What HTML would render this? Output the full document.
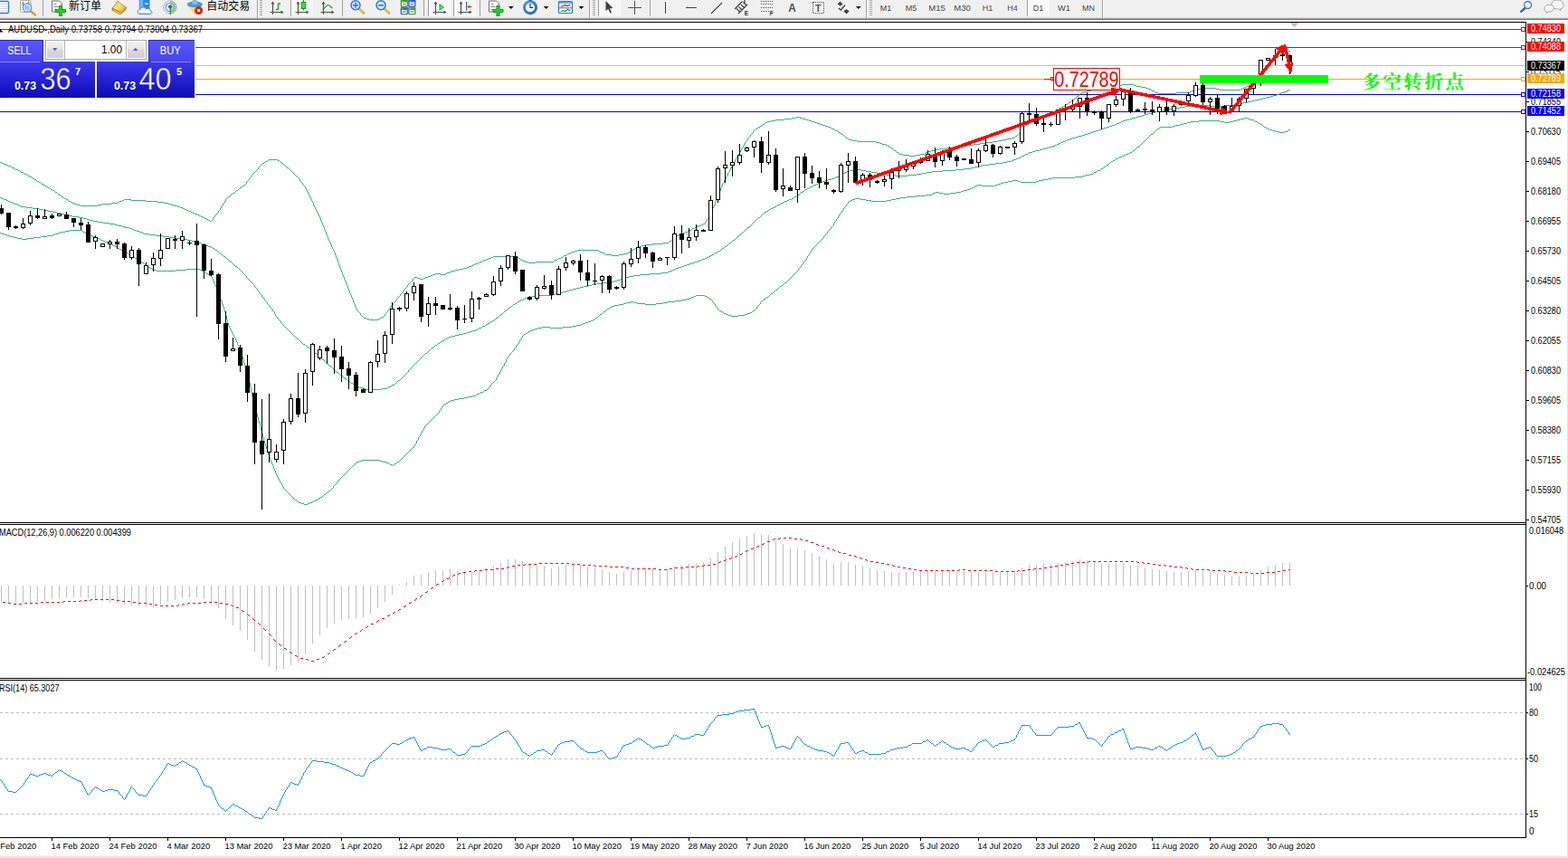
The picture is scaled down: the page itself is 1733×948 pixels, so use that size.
<!DOCTYPE html>
<html><head><meta charset="utf-8"><title>AUDUSD Daily</title>
<style>
html,body{margin:0;padding:0;background:#fff}
body{width:1733px;height:948px;overflow:hidden;position:relative;font-family:"Liberation Sans",sans-serif}
svg{position:absolute;left:0;top:0;display:block}
svg text{font-family:"Liberation Sans",sans-serif}
.c{shape-rendering:crispEdges}
</style></head><body>
<svg width="1733" height="948" viewBox="0 0 1733 948">
<rect x="0" y="0" width="1733" height="948" fill="#fff"/>
<g class="c">
<rect x="0" y="32" width="1686" height="1" fill="#ff0000" />
<rect x="0" y="52" width="1686" height="1" fill="#ff0000" />
<rect x="0" y="72" width="1686" height="1" fill="#c0c0c0" />
<rect x="0" y="87" width="1686" height="1" fill="#ffa500" />
<rect x="0" y="104" width="1686" height="1" fill="#0000ff" />
<rect x="0" y="123" width="1686" height="1" fill="#0000ff" />
</g>
<path class="c" d="M0 179.5h2M2 180.5h2M4 181.5h3M7 182.5h2M9 183.5h3M12 184.5h1M13 185.5h3M16 186.5h1M17 187.5h3M20 188.5h2M22 189.5h1M23 190.5h3M26 191.5h1M27 192.5h3M30 193.5h1M31 194.5h2M33 195.5h2M35 196.5h1M36 197.5h2M38 198.5h2M40 199.5h1M41 200.5h2M43 201.5h2M45 202.5h1M46 203.5h2M48 204.5h2M50 205.5h1M51 206.5h2M53 207.5h2M55 208.5h1M56 209.5h2M58 210.5h2M60 211.5h1M61 212.5h2M63 213.5h1M64 214.5h1M65 215.5h2M67 216.5h1M68 217.5h2M70 218.5h1M71 219.5h2M73 220.5h2M75 221.5h1M76 222.5h2M78 223.5h2M80 224.5h2M82 225.5h3M85 226.5h4M89 227.5h19M108 226.5h5M113 225.5h10M123 224.5h7M130 223.5h2M132 222.5h3M135 221.5h2M137 220.5h8M145 221.5h16M161 222.5h13M174 223.5h7M181 224.5h5M186 225.5h3M189 226.5h4M193 227.5h3M196 228.5h3M199 229.5h3M202 230.5h2M204 231.5h2M206 232.5h2M208 233.5h3M211 234.5h2M213 235.5h2M215 236.5h3M218 237.5h2M220 238.5h2M222 239.5h2M224 240.5h2M226 241.5h2M228 242.5h2M230 243.5h2M232 244.5h2M234 243.5h1M235.5 241v2M236 240.5h1M237.5 238v2M238 237.5h1M239 236.5h1M240 235.5h1M241.5 233v2M242 232.5h1M243.5 230v2M244.5 228v2M245 227.5h1M246.5 225v2M247 224.5h1M248.5 222v2M249.5 220v2M250 219.5h1M251 218.5h1M252 217.5h2M254 216.5h1M255 215.5h1M256 214.5h1M257 213.5h2M259 212.5h1M260 211.5h1M261 210.5h2M263 209.5h1M264 208.5h1M265 207.5h2M267 206.5h1M268 205.5h2M270 204.5h1M271 203.5h1M272.5 201v2M273 200.5h1M274 199.5h1M275.5 197v2M276 196.5h1M277 195.5h1M278.5 193v2M279 192.5h1M280 191.5h1M281 190.5h1M282 189.5h1M283 188.5h1M284 187.5h1M285.5 185v2M286 184.5h1M287 183.5h1M288 182.5h1M289 181.5h1M290 180.5h2M292 179.5h1M293 178.5h3M296 177.5h1M297 176.5h10M307 177.5h2M309 178.5h1M310 179.5h1M311 180.5h2M313 181.5h1M314 182.5h1M315 183.5h1M316 184.5h1M317 185.5h2M319 186.5h1M320 187.5h1M321 188.5h1M322 189.5h1M323 190.5h1M324 191.5h1M325 192.5h1M326 193.5h1M327 194.5h1M328 195.5h1M329 196.5h1M330 197.5h1M331.5 198v2M332 200.5h1M333 201.5h1M334.5 202v2M335 204.5h1M336 205.5h1M337.5 206v2M338.5 208v2M339.5 210v2M340.5 212v2M341.5 214v2M342.5 216v2M343.5 218v2M344.5 220v2M345.5 222v2M346.5 224v3M347.5 227v2M348.5 229v2M349.5 231v2M350.5 233v2M351.5 235v2M352.5 237v2M353.5 239v2M354.5 241v3M355.5 244v2M356.5 246v3M357.5 249v2M358.5 251v3M359.5 254v2M360.5 256v3M361.5 259v2M362.5 261v3M363.5 264v2M364.5 266v2M365.5 268v2M366.5 270v3M367.5 273v2M368.5 275v2M369.5 277v2M370.5 279v3M371.5 282v3M372.5 285v2M373.5 287v3M374.5 290v3M375.5 293v3M376.5 296v2M377.5 298v3M378.5 301v3M379.5 304v2M380.5 306v3M381.5 309v2M382.5 311v3M383.5 314v2M384.5 316v3M385.5 319v2M386.5 321v3M387.5 324v2M388.5 326v3M389.5 329v2M390.5 331v3M391.5 334v2M392.5 336v3M393.5 339v2M394.5 341v2M395 343.5h1M396 344.5h1M397 345.5h1M398.5 346v2M399 348.5h1M400 349.5h1M401 350.5h1M402 351.5h3M405 352.5h3M408 353.5h10M418 352.5h2M420 351.5h2M422 350.5h2M424 349.5h1M425.5 347v2M426 346.5h1M427 345.5h1M428.5 343v2M429 342.5h1M430 341.5h1M431.5 339v2M432 338.5h1M433 337.5h1M434.5 335v2M435 334.5h1M436 333.5h1M437 332.5h1M438.5 330v2M439 329.5h1M440 328.5h1M441 327.5h1M442.5 325v2M443 324.5h1M444 323.5h1M445 322.5h1M446.5 320v2M447 319.5h1M448 318.5h1M449 317.5h1M450.5 315v2M451 314.5h1M452 313.5h1M453 312.5h1M454 311.5h1M455 310.5h1M456.5 308v2M457 307.5h1M458 306.5h3M461 307.5h3M464 308.5h4M468 307.5h2M470 306.5h3M473 305.5h3M476 304.5h2M478 303.5h3M481 302.5h6M487 303.5h5M492 302.5h2M494 301.5h3M497 300.5h2M499 299.5h4M503 298.5h4M507 297.5h5M512 296.5h4M516 295.5h2M518 294.5h3M521 293.5h2M523 292.5h2M525 291.5h3M528 290.5h2M530 289.5h3M533 288.5h2M535 287.5h3M538 286.5h2M540 285.5h3M543 284.5h2M545 283.5h22M567 284.5h6M573 285.5h2M575 286.5h1M576 287.5h2M578 288.5h3M581 289.5h3M584 290.5h8M592 289.5h20M612 288.5h1M613 287.5h3M616 286.5h1M617 285.5h3M620 284.5h2M622 283.5h1M623 282.5h3M626 281.5h1M627 280.5h3M630 279.5h2M632 278.5h3M635 277.5h3M638 276.5h23M661 277.5h2M663 278.5h2M665 279.5h3M668 280.5h1M669 281.5h7M676 282.5h8M684 281.5h5M689 280.5h4M693 279.5h2M695 278.5h2M697 277.5h1M698 276.5h2M700 275.5h2M702 274.5h2M704 273.5h2M706 272.5h3M709 271.5h4M713 270.5h8M721 269.5h12M733 268.5h6M739 267.5h1M740 266.5h2M742 265.5h1M743 264.5h1M744 263.5h1M745 262.5h2M747 261.5h1M748 260.5h2M750 259.5h2M752 258.5h3M755 257.5h2M757 256.5h3M760 255.5h1M761 254.5h3M764 253.5h1M765 252.5h3M768 251.5h2M770 250.5h2M772 249.5h3M775 248.5h2M777 247.5h2M779.5 245v2M780 244.5h1M781.5 242v2M782 241.5h1M783.5 239v2M784.5 237v2M785.5 235v2M786.5 233v2M787.5 230v3M788.5 228v2M789.5 226v2M790.5 223v3M791.5 221v2M792.5 218v3M793.5 216v2M794.5 213v3M795.5 211v2M796.5 208v3M797.5 206v2M798.5 203v3M799 202.5h1M800.5 199v3M801 198.5h1M802.5 195v3M803 194.5h1M804.5 191v3M805 190.5h1M806.5 188v2M807.5 186v2M808.5 184v2M809.5 182v2M810.5 180v2M811 179.5h1M812.5 177v2M813.5 175v2M814.5 173v2M815.5 171v2M816 170.5h1M817.5 168v2M818.5 166v2M819.5 164v2M820 163.5h1M821.5 161v2M822.5 159v2M823.5 157v2M824 156.5h1M825 155.5h1M826.5 153v2M827 152.5h1M828 151.5h1M829.5 149v2M830 148.5h1M831 147.5h1M832.5 145v2M833 144.5h1M834 143.5h1M835 142.5h2M837 141.5h1M838 140.5h2M840 139.5h2M842 138.5h1M843 137.5h2M845 136.5h1M846 135.5h2M848 134.5h4M852 133.5h5M857 132.5h10M867 131.5h8M875 130.5h5M880 129.5h4M884 130.5h3M887 131.5h4M891 132.5h3M894 133.5h3M897 134.5h3M900 135.5h3M903 136.5h3M906 137.5h3M909 138.5h3M912 139.5h3M915 140.5h3M918 141.5h1M919 142.5h3M922 143.5h1M923 144.5h3M926 145.5h1M927 146.5h2M929 147.5h1M930 148.5h2M932 149.5h1M933 150.5h1M934 151.5h1M935 152.5h2M937 153.5h1M938 154.5h4M942 155.5h5M947 156.5h21M968 157.5h4M972 158.5h3M975 159.5h4M979 160.5h2M981 161.5h2M983 162.5h1M984 163.5h2M986 164.5h1M987 165.5h1M988 166.5h2M990 167.5h1M991 168.5h2M993 169.5h1M994 170.5h4M998 171.5h7M1005 172.5h7M1012 171.5h5M1017 170.5h5M1022 169.5h1M1023 168.5h3M1026 167.5h3M1029 166.5h4M1033 165.5h5M1038 164.5h8M1046 163.5h9M1055 162.5h9M1064 161.5h5M1069 160.5h7M1076 159.5h7M1083 158.5h7M1090 157.5h7M1097 156.5h6M1103 155.5h5M1108 154.5h5M1113 153.5h5M1118 152.5h3M1121 151.5h1M1122 150.5h2M1124 149.5h1M1125 148.5h1M1126 147.5h1M1127 146.5h1M1128.5 144v2M1129 143.5h1M1130.5 141v2M1131 140.5h1M1132 139.5h1M1133 138.5h2M1135 137.5h2M1137 136.5h1M1138 135.5h2M1140 134.5h2M1142 133.5h2M1144 132.5h3M1147 131.5h2M1149 130.5h3M1152 129.5h2M1154 128.5h3M1157 127.5h2M1159 126.5h3M1162 125.5h2M1164 124.5h2M1166 123.5h1M1167 122.5h2M1169 121.5h1M1170 120.5h1M1171 119.5h2M1173 118.5h2M1175 117.5h2M1177 116.5h1M1178 115.5h2M1180 114.5h1M1181 113.5h2M1183 112.5h1M1184 111.5h2M1186 110.5h1M1187 109.5h1M1188 108.5h1M1189 107.5h1M1190 106.5h2M1192 105.5h1M1193 104.5h1M1194 103.5h2M1196 102.5h2M1198 101.5h3M1201 100.5h5M1206 99.5h6M1212 98.5h6M1218 97.5h6M1224 96.5h6M1230 95.5h6M1236 94.5h4M1240 93.5h13M1253 94.5h3M1256 95.5h5M1261 96.5h5M1266 97.5h3M1269 98.5h3M1272 99.5h1M1273 100.5h3M1276 101.5h1M1277 102.5h3M1280 103.5h20M1300 102.5h15M1315 101.5h2M1317 100.5h3M1320 99.5h1M1321 98.5h7M1328 97.5h16M1344 98.5h4M1348 99.5h23M1371 98.5h2M1373 97.5h2M1375 96.5h3M1378 95.5h2M1380 94.5h3M1383 93.5h3M1386 92.5h2M1388 91.5h1M1389.5 89v2M1390 88.5h1M1391 87.5h1M1392 86.5h1M1393.5 84v2M1394 83.5h1M1395 82.5h1M1396 81.5h1M1397.5 79v2M1398 78.5h1M1399 77.5h1M1400.5 75v2M1401 74.5h1M1402 73.5h1M1403.5 71v2M1404 70.5h1M1405 69.5h1M1406 68.5h1M1407 67.5h1M1408 66.5h1M1409 65.5h1M1410 64.5h1M1411 63.5h1M1412 62.5h2M1414 61.5h1M1415 60.5h3M1418 59.5h2M1420 58.5h2M1422 57.5h2M1424 56.5h2" stroke="#3cb371" stroke-width="1" fill="none"/>
<path class="c" d="M0 218.5h2M2 219.5h2M4 220.5h3M7 221.5h2M9 222.5h2M11 223.5h3M14 224.5h2M16 225.5h3M19 226.5h2M21 227.5h2M23 228.5h6M29 229.5h7M36 230.5h7M43 231.5h5M48 232.5h5M53 233.5h5M58 234.5h5M63 235.5h3M66 236.5h5M71 237.5h3M74 238.5h6M80 239.5h7M87 240.5h5M92 241.5h4M96 242.5h3M99 243.5h4M103 244.5h5M108 245.5h6M114 246.5h7M121 247.5h6M127 248.5h3M130 249.5h5M135 250.5h3M138 251.5h5M143 252.5h3M146 253.5h2M148 254.5h3M151 255.5h3M154 256.5h3M157 257.5h2M159 258.5h6M165 259.5h7M172 260.5h8M180 261.5h7M187 262.5h7M194 263.5h6M200 264.5h7M207 265.5h5M212 266.5h3M215 267.5h4M219 268.5h3M222 269.5h2M224 270.5h3M227 271.5h3M230 272.5h3M233 273.5h2M235 274.5h2M237 275.5h1M238 276.5h2M240 277.5h1M241 278.5h1M242 279.5h1M243 280.5h2M245 281.5h1M246 282.5h1M247 283.5h2M249 284.5h1M250 285.5h1M251 286.5h1M252 287.5h1M253 288.5h2M255 289.5h1M256 290.5h1M257 291.5h1M258 292.5h1M259 293.5h1M260 294.5h2M262 295.5h1M263 296.5h1M264 297.5h1M265 298.5h1M266 299.5h1M267 300.5h1M268 301.5h1M269 302.5h1M270 303.5h1M271 304.5h1M272.5 305v2M273 307.5h1M274 308.5h1M275 309.5h1M276 310.5h1M277 311.5h1M278 312.5h1M279 313.5h1M280 314.5h1M281.5 315v2M282 317.5h1M283 318.5h1M284.5 319v2M285 321.5h1M286.5 322v2M287 324.5h1M288 325.5h1M289.5 326v2M290 328.5h1M291 329.5h1M292.5 330v2M293 332.5h1M294 333.5h1M295.5 334v2M296 336.5h1M297 337.5h1M298.5 338v2M299 340.5h1M300 341.5h1M301.5 342v2M302 344.5h1M303.5 345v2M304.5 347v2M305 349.5h1M306.5 350v2M307 352.5h1M308 353.5h1M309 354.5h1M310.5 355v2M311 357.5h1M312 358.5h1M313 359.5h1M314 360.5h1M315 361.5h1M316 362.5h1M317 363.5h1M318 364.5h1M319 365.5h1M320 366.5h1M321 367.5h1M322 368.5h1M323 369.5h1M324 370.5h1M325 371.5h1M326 372.5h1M327 373.5h1M328 374.5h2M330 375.5h1M331 376.5h1M332 377.5h1M333 378.5h1M334 379.5h1M335 380.5h2M337 381.5h1M338 382.5h1M339 383.5h2M341 384.5h1M342 385.5h2M344 386.5h1M345 387.5h1M346 388.5h1M347 389.5h1M348 390.5h2M350 391.5h1M351 392.5h1M352 393.5h1M353 394.5h1M354 395.5h1M355 396.5h1M356 397.5h2M358 398.5h1M359 399.5h1M360 400.5h1M361 401.5h1M362 402.5h1M363 403.5h1M364 404.5h2M366 405.5h1M367 406.5h1M368 407.5h1M369 408.5h1M370 409.5h1M371 410.5h1M372 411.5h2M374 412.5h1M375 413.5h1M376 414.5h1M377 415.5h2M379 416.5h1M380 417.5h1M381 418.5h2M383 419.5h1M384 420.5h1M385 421.5h2M387 422.5h1M388 423.5h2M390 424.5h2M392 425.5h1M393 426.5h3M396 427.5h1M397 428.5h4M401 429.5h3M404 430.5h18M422 429.5h6M428 428.5h1M429 427.5h3M432 426.5h1M433 425.5h3M436 424.5h1M437 423.5h1M438 422.5h1M439 421.5h1M440 420.5h2M442 419.5h1M443 418.5h1M444 417.5h1M445 416.5h1M446 415.5h1M447 414.5h1M448 413.5h1M449 412.5h1M450 411.5h1M451.5 409v2M452 408.5h1M453 407.5h1M454 406.5h1M455 405.5h1M456 404.5h1M457 403.5h1M458 402.5h1M459 401.5h1M460 400.5h1M461 399.5h1M462 398.5h1M463 397.5h1M464 396.5h1M465 395.5h1M466 394.5h1M467 393.5h1M468 392.5h1M469 391.5h1M470 390.5h2M472 389.5h1M473 388.5h1M474 387.5h1M475 386.5h1M476 385.5h1M477 384.5h2M479 383.5h1M480 382.5h1M481 381.5h2M483 380.5h1M484 379.5h2M486 378.5h1M487 377.5h2M489 376.5h2M491 375.5h1M492 374.5h2M494 373.5h2M496 372.5h3M499 371.5h4M503 370.5h4M507 369.5h5M512 368.5h4M516 367.5h3M519 366.5h3M522 365.5h3M525 364.5h3M528 363.5h1M529 362.5h3M532 361.5h1M533 360.5h3M536 359.5h1M537 358.5h2M539 357.5h2M541 356.5h1M542 355.5h2M544 354.5h2M546 353.5h1M547 352.5h1M548 351.5h2M550 350.5h1M551 349.5h1M552 348.5h1M553 347.5h2M555 346.5h1M556 345.5h1M557 344.5h1M558 343.5h2M560 342.5h1M561 341.5h1M562 340.5h1M563 339.5h2M565 338.5h1M566 337.5h1M567 336.5h2M569 335.5h2M571 334.5h1M572 333.5h2M574 332.5h2M576 331.5h2M578 330.5h2M580 329.5h3M583 328.5h5M588 327.5h5M593 326.5h18M611 325.5h3M614 324.5h5M619 323.5h3M622 322.5h4M626 321.5h3M629 320.5h4M633 319.5h4M637 318.5h4M641 317.5h4M645 316.5h5M650 315.5h4M654 314.5h5M659 313.5h6M665 312.5h8M673 311.5h6M679 310.5h3M682 309.5h4M686 308.5h3M689 307.5h3M692 306.5h3M695 305.5h5M700 304.5h7M707 303.5h11M718 302.5h13M731 301.5h7M738 300.5h2M740 299.5h3M743 298.5h2M745 297.5h2M747 296.5h3M750 295.5h3M753 294.5h3M756 293.5h3M759 292.5h3M762 291.5h3M765 290.5h3M768 289.5h3M771 288.5h3M774 287.5h2M776 286.5h3M779 285.5h2M781 284.5h2M783 283.5h2M785 282.5h2M787 281.5h2M789 280.5h1M790 279.5h2M792 278.5h2M794 277.5h2M796 276.5h1M797 275.5h1M798 274.5h2M800 273.5h1M801 272.5h2M803 271.5h1M804 270.5h1M805 269.5h1M806 268.5h2M808 267.5h1M809 266.5h1M810 265.5h2M812 264.5h1M813 263.5h1M814 262.5h1M815 261.5h1M816 260.5h1M817 259.5h2M819 258.5h1M820 257.5h1M821 256.5h1M822 255.5h1M823 254.5h1M824 253.5h1M825 252.5h1M826 251.5h2M828 250.5h1M829 249.5h1M830 248.5h1M831 247.5h1M832 246.5h1M833 245.5h1M834 244.5h1M835 243.5h1M836 242.5h1M837 241.5h1M838 240.5h2M840 239.5h1M841 238.5h1M842 237.5h1M843 236.5h1M844 235.5h1M845 234.5h2M847 233.5h2M849 232.5h1M850 231.5h2M852 230.5h2M854 229.5h2M856 228.5h2M858 227.5h1M859 226.5h3M862 225.5h1M863 224.5h3M866 223.5h1M867 222.5h3M870 221.5h2M872 220.5h3M875 219.5h2M877 218.5h1M878 217.5h2M880 216.5h1M881 215.5h2M883 214.5h1M884 213.5h1M885 212.5h2M887 211.5h2M889 210.5h1M890 209.5h2M892 208.5h2M894 207.5h1M895 206.5h3M898 205.5h1M899 204.5h3M902 203.5h2M904 202.5h3M907 201.5h2M909 200.5h3M912 199.5h3M915 198.5h4M919 197.5h3M922 196.5h2M924 195.5h3M927 194.5h2M929 193.5h2M931 192.5h1M932 191.5h2M934 190.5h2M936 189.5h3M939 188.5h6M945 187.5h7M952 188.5h5M957 189.5h6M963 190.5h6M969 191.5h6M975 192.5h5M980 193.5h10M990 194.5h13M1003 193.5h10M1013 192.5h6M1019 191.5h5M1024 190.5h6M1030 189.5h12M1042 188.5h14M1056 187.5h9M1065 186.5h8M1073 185.5h4M1077 184.5h5M1082 183.5h4M1086 182.5h7M1093 181.5h7M1100 180.5h8M1108 179.5h5M1113 178.5h5M1118 177.5h2M1120 176.5h3M1123 175.5h2M1125 174.5h3M1128 173.5h1M1129 172.5h3M1132 171.5h1M1133 170.5h3M1136 169.5h1M1137 168.5h4M1141 167.5h3M1144 166.5h5M1149 165.5h3M1152 164.5h4M1156 163.5h3M1159 162.5h4M1163 161.5h3M1166 160.5h2M1168 159.5h2M1170 158.5h2M1172 157.5h3M1175 156.5h2M1177 155.5h2M1179 154.5h3M1182 153.5h3M1185 152.5h4M1189 151.5h3M1192 150.5h4M1196 149.5h3M1199 148.5h3M1202 147.5h3M1205 146.5h3M1208 145.5h3M1211 144.5h3M1214 143.5h3M1217 142.5h3M1220 141.5h3M1223 140.5h3M1226 139.5h3M1229 138.5h3M1232 137.5h2M1234 136.5h3M1237 135.5h2M1239 134.5h2M1241 133.5h3M1244 132.5h4M1248 131.5h3M1251 130.5h4M1255 129.5h3M1258 128.5h4M1262 127.5h3M1265 126.5h4M1269 125.5h4M1273 124.5h4M1277 123.5h5M1282 122.5h5M1287 121.5h5M1292 120.5h6M1298 119.5h6M1304 118.5h6M1310 117.5h12M1322 116.5h16M1338 117.5h16M1354 116.5h10M1364 115.5h5M1369 114.5h5M1374 113.5h5M1379 112.5h4M1383 111.5h4M1387 110.5h5M1392 109.5h4M1396 108.5h4M1400 107.5h4M1404 106.5h3M1407 105.5h4M1411 104.5h3M1414 103.5h2M1416 102.5h3M1419 101.5h3M1422 100.5h2M1424 99.5h2" stroke="#3cb371" stroke-width="1" fill="none"/>
<path class="c" d="M0 257.5h2M2 258.5h3M5 259.5h3M8 260.5h3M11 261.5h4M15 262.5h4M19 263.5h5M24 264.5h6M30 263.5h7M37 262.5h8M45 261.5h7M52 260.5h6M58 259.5h3M61 258.5h3M64 257.5h3M67 256.5h5M72 255.5h5M77 254.5h14M91 255.5h1M92 256.5h2M94 257.5h1M95 258.5h1M96 259.5h3M99 260.5h3M102 261.5h4M106 262.5h1M107 263.5h3M110 264.5h1M111 265.5h3M114 266.5h2M116 267.5h3M119 268.5h2M121 269.5h2M123 270.5h2M125 271.5h2M127 272.5h2M129 273.5h1M130 274.5h2M132 275.5h2M134 276.5h2M136 277.5h1M137 278.5h2M139 279.5h2M141 280.5h1M142 281.5h2M144 282.5h2M146 283.5h1M147 284.5h2M149 285.5h2M151 286.5h1M152 287.5h2M154 288.5h2M156 289.5h1M157 290.5h2M159 291.5h1M160 292.5h1M161 293.5h2M163 294.5h1M164 295.5h2M166 296.5h2M168 297.5h2M170 298.5h3M173 299.5h21M194 298.5h12M206 297.5h15M221 298.5h2M223 299.5h2M225 300.5h2M227 301.5h1M228 302.5h2M230 303.5h1M231 304.5h2M233 305.5h1M234.5 306v2M235.5 308v2M236.5 310v3M237.5 313v2M238.5 315v2M239.5 317v3M240.5 320v2M241.5 322v3M242.5 325v3M243.5 328v3M244.5 331v2M245.5 333v3M246.5 336v3M247.5 339v3M248.5 342v3M249.5 345v4M250.5 349v4M251.5 353v4M252.5 357v3M253.5 360v2M254.5 362v2M255.5 364v2M256.5 366v2M257.5 368v2M258.5 370v2M259.5 372v2M260.5 374v2M261.5 376v2M262.5 378v3M263.5 381v2M264.5 383v2M265.5 385v2M266.5 387v3M267.5 390v4M268.5 394v3M269.5 397v4M270.5 401v3M271.5 404v4M272.5 408v3M273.5 411v4M274.5 415v4M275.5 419v4M276.5 423v5M277.5 428v5M278.5 433v5M279.5 438v4M280.5 442v4M281.5 446v4M282.5 450v4M283.5 454v3M284.5 457v4M285.5 461v4M286.5 465v3M287.5 468v4M288.5 472v4M289.5 476v3M290.5 479v4M291.5 483v4M292.5 487v3M293.5 490v3M294.5 493v3M295.5 496v3M296.5 499v3M297.5 502v3M298.5 505v3M299.5 508v2M300.5 510v3M301.5 513v2M302.5 515v3M303.5 518v2M304.5 520v3M305.5 523v2M306.5 525v2M307.5 527v2M308.5 529v2M309.5 531v2M310 533.5h1M311.5 534v2M312.5 536v2M313.5 538v2M314 540.5h1M315 541.5h1M316 542.5h1M317 543.5h1M318 544.5h1M319 545.5h1M320 546.5h1M321 547.5h1M322 548.5h1M323 549.5h1M324 550.5h1M325 551.5h1M326 552.5h2M328 553.5h1M329 554.5h1M330 555.5h3M333 556.5h3M336 557.5h4M340 556.5h2M342 555.5h3M345 554.5h2M347 553.5h2M349 552.5h2M351 551.5h1M352 550.5h2M354 549.5h2M356 548.5h1M357 547.5h1M358 546.5h2M360 545.5h1M361 544.5h1M362 543.5h1M363 542.5h2M365 541.5h1M366 540.5h1M367 539.5h1M368.5 537v2M369 536.5h1M370 535.5h1M371 534.5h1M372 533.5h1M373 532.5h1M374.5 530v2M375 529.5h1M376 528.5h1M377 527.5h1M378 526.5h1M379 525.5h1M380 524.5h1M381 523.5h1M382 522.5h1M383 521.5h1M384 520.5h1M385 519.5h1M386 518.5h1M387 517.5h1M388 516.5h1M389 515.5h1M390 514.5h1M391 513.5h1M392 512.5h1M393 511.5h1M394 510.5h3M397 509.5h3M400 508.5h20M420 509.5h3M423 510.5h4M427 511.5h3M430 512.5h1M431 513.5h3M434 514.5h1M435 513.5h1M436 512.5h2M438 511.5h1M439 510.5h2M441 509.5h1M442 508.5h1M443 507.5h1M444 506.5h1M445 505.5h1M446 504.5h1M447 503.5h1M448 502.5h1M449 501.5h1M450 500.5h1M451 499.5h1M452 498.5h1M453 497.5h1M454 496.5h1M455 495.5h1M456 494.5h1M457 493.5h1M458.5 491v2M459 490.5h1M460.5 487v3M461 486.5h1M462.5 483v3M463 482.5h1M464.5 480v2M465.5 478v2M466.5 476v2M467 475.5h1M468.5 473v2M469.5 471v2M470 470.5h1M471 469.5h1M472 468.5h1M473 467.5h1M474 466.5h1M475 465.5h1M476 464.5h1M477 463.5h1M478 462.5h1M479 461.5h1M480 460.5h1M481 459.5h1M482 458.5h1M483 457.5h1M484 456.5h1M485.5 454v2M486 453.5h1M487.5 451v2M488 450.5h1M489.5 448v2M490 447.5h1M491 446.5h2M493 445.5h2M495 444.5h1M496 443.5h2M498 442.5h4M502 441.5h5M507 440.5h6M513 439.5h4M517 438.5h5M522 437.5h4M526 436.5h1M527 435.5h3M530 434.5h1M531 433.5h3M534 432.5h1M535 431.5h3M538 430.5h1M539 429.5h1M540 428.5h1M541 427.5h1M542.5 425v2M543 424.5h1M544 423.5h1M545 422.5h1M546 421.5h1M547 420.5h1M548.5 418v2M549.5 416v2M550.5 414v2M551 413.5h1M552.5 411v2M553.5 409v2M554.5 407v2M555.5 405v2M556 404.5h1M557.5 401v3M558 400.5h1M559.5 397v3M560 396.5h1M561.5 394v2M562 393.5h1M563.5 391v2M564 390.5h1M565 389.5h1M566 388.5h1M567 387.5h1M568.5 385v2M569 384.5h1M570.5 382v2M571 381.5h1M572 380.5h1M573.5 378v2M574.5 376v2M575 375.5h1M576.5 373v2M577.5 371v2M578 370.5h1M579 369.5h2M581 368.5h2M583 367.5h1M584 366.5h2M586 365.5h2M588 364.5h3M591 363.5h3M594 362.5h5M599 361.5h9M608 362.5h14M622 361.5h10M632 360.5h5M637 359.5h5M642 358.5h2M644 357.5h3M647 356.5h3M650 355.5h3M653 354.5h2M655 353.5h2M657 352.5h1M658 351.5h2M660 350.5h1M661 349.5h1M662 348.5h1M663 347.5h2M665 346.5h1M666 345.5h1M667 344.5h2M669 343.5h1M670 342.5h1M671 341.5h2M673 340.5h1M674 339.5h2M676 338.5h3M679 337.5h5M684 336.5h5M689 335.5h3M692 334.5h5M697 333.5h4M701 334.5h3M704 335.5h9M713 336.5h12M725 335.5h8M733 334.5h5M738 333.5h8M746 332.5h7M753 331.5h5M758 330.5h4M762 329.5h2M764 328.5h3M767 327.5h2M769 326.5h10M779 327.5h2M781 328.5h2M783 329.5h1M784 330.5h2M786 331.5h1M787.5 332v2M788 334.5h1M789 335.5h1M790.5 336v2M791 338.5h1M792 339.5h1M793.5 340v2M794 342.5h1M795 343.5h2M797 344.5h2M799 345.5h1M800 346.5h2M802 347.5h3M805 348.5h3M808 349.5h8M816 348.5h7M823 347.5h3M826 346.5h3M829 345.5h2M831 344.5h1M832 343.5h2M834 342.5h1M835 341.5h1M836.5 339v2M837 338.5h1M838 337.5h1M839 336.5h1M840.5 334v2M841 333.5h1M842 332.5h1M843 331.5h1M844 330.5h2M846 329.5h1M847 328.5h2M849 327.5h1M850 326.5h1M851 325.5h1M852 324.5h2M854 323.5h1M855 322.5h1M856 321.5h1M857 320.5h2M859 319.5h1M860 318.5h1M861 317.5h1M862 316.5h2M864 315.5h1M865 314.5h1M866 313.5h1M867 312.5h2M869 311.5h1M870 310.5h1M871 309.5h1M872 308.5h1M873 307.5h1M874 306.5h1M875 305.5h1M876 304.5h1M877 303.5h1M878 302.5h1M879 301.5h1M880 300.5h1M881 299.5h1M882.5 297v2M883 296.5h1M884 295.5h1M885.5 293v2M886 292.5h1M887 291.5h1M888.5 289v2M889 288.5h1M890 287.5h1M891.5 285v2M892.5 283v2M893 282.5h1M894.5 280v2M895 279.5h1M896.5 277v2M897.5 275v2M898 274.5h1M899 273.5h1M900 272.5h1M901 271.5h1M902 270.5h1M903 269.5h1M904 268.5h1M905 267.5h1M906 266.5h1M907 265.5h1M908 264.5h1M909 263.5h1M910.5 261v2M911 260.5h1M912 259.5h1M913 258.5h1M914.5 256v2M915 255.5h1M916 254.5h1M917 253.5h1M918.5 251v2M919 250.5h1M920 249.5h1M921.5 247v2M922.5 245v2M923 244.5h1M924.5 242v2M925 241.5h1M926.5 239v2M927.5 237v2M928 236.5h1M929 235.5h1M930.5 233v2M931 232.5h1M932.5 230v2M933 229.5h1M934 228.5h1M935.5 226v2M936 225.5h1M937.5 223v2M938 222.5h2M940 221.5h2M942 220.5h3M945 219.5h6M951 220.5h6M957 221.5h6M963 222.5h17M980 221.5h5M985 220.5h5M990 219.5h5M995 218.5h7M1002 217.5h10M1012 216.5h11M1023 215.5h7M1030 214.5h1M1031 213.5h3M1034 212.5h4M1038 213.5h5M1043 214.5h7M1050 213.5h7M1057 212.5h5M1062 211.5h3M1065 210.5h4M1069 209.5h3M1072 208.5h2M1074 207.5h2M1076 206.5h2M1078 205.5h2M1080 204.5h5M1085 205.5h15M1100 204.5h3M1103 203.5h3M1106 202.5h3M1109 201.5h5M1114 200.5h5M1119 199.5h6M1125 200.5h3M1128 201.5h17M1145 200.5h3M1148 199.5h5M1153 198.5h5M1158 197.5h5M1163 196.5h25M1188 195.5h9M1197 194.5h3M1200 193.5h5M1205 192.5h3M1208 191.5h1M1209 190.5h3M1212 189.5h1M1213 188.5h3M1216 187.5h1M1217 186.5h2M1219 185.5h1M1220 184.5h2M1222 183.5h1M1223 182.5h2M1225 181.5h1M1226 180.5h1M1227 179.5h1M1228 178.5h2M1230 177.5h2M1232 176.5h1M1233 175.5h3M1236 174.5h1M1237 173.5h3M1240 172.5h2M1242 171.5h2M1244 170.5h3M1247 169.5h2M1249 168.5h2M1251 167.5h1M1252 166.5h2M1254 165.5h1M1255 164.5h1M1256 163.5h1M1257 162.5h2M1259 161.5h1M1260 160.5h1M1261 159.5h1M1262 158.5h1M1263 157.5h1M1264 156.5h1M1265 155.5h1M1266 154.5h1M1267 153.5h1M1268 152.5h1M1269 151.5h1M1270 150.5h1M1271 149.5h1M1272 148.5h2M1274 147.5h1M1275 146.5h1M1276 145.5h1M1277 144.5h1M1278 143.5h1M1279 142.5h2M1281 141.5h1M1282 140.5h14M1296 139.5h3M1299 138.5h5M1304 137.5h4M1308 136.5h4M1312 135.5h4M1316 134.5h9M1325 133.5h23M1348 134.5h5M1353 135.5h6M1359 134.5h4M1363 133.5h4M1367 132.5h4M1371 131.5h4M1375 130.5h4M1379 131.5h3M1382 132.5h4M1386 133.5h1M1387 134.5h3M1390 135.5h1M1391 136.5h2M1393 137.5h2M1395 138.5h1M1396 139.5h1M1397 140.5h2M1399 141.5h2M1401 142.5h2M1403 143.5h3M1406 144.5h4M1410 145.5h4M1414 146.5h5M1419 145.5h4M1423 144.5h1M1424 143.5h2" stroke="#3cb371" stroke-width="1" fill="none"/>
<g class="c">
<rect x="1" y="226" width="1" height="11" fill="#000" />
<rect x="-1" y="230" width="5" height="6" fill="#000" />
<rect x="9" y="235" width="1" height="19" fill="#000" />
<rect x="7" y="235" width="5" height="16" fill="#000" />
<rect x="17" y="249" width="1" height="4" fill="#000" />
<rect x="15" y="250" width="5" height="2" fill="#000" />
<rect x="25" y="241" width="1" height="12" fill="#000" />
<rect x="23" y="247" width="5" height="5" fill="#000" />
<rect x="24" y="248" width="3" height="3" fill="#fff" />
<rect x="33" y="233" width="1" height="16" fill="#000" />
<rect x="31" y="238" width="5" height="9" fill="#000" />
<rect x="32" y="239" width="3" height="7" fill="#fff" />
<rect x="41" y="230" width="1" height="12" fill="#000" />
<rect x="39" y="238" width="5" height="3" fill="#000" />
<rect x="49" y="231" width="1" height="11" fill="#000" />
<rect x="47" y="239" width="5" height="3" fill="#000" />
<rect x="48" y="240" width="3" height="1" fill="#fff" />
<rect x="57" y="236" width="1" height="6" fill="#000" />
<rect x="55" y="238" width="5" height="3" fill="#000" />
<rect x="65" y="236" width="1" height="3" fill="#000" />
<rect x="63" y="236" width="5" height="3" fill="#000" />
<rect x="64" y="237" width="3" height="1" fill="#fff" />
<rect x="73" y="234" width="1" height="8" fill="#000" />
<rect x="71" y="237" width="5" height="5" fill="#000" />
<rect x="81" y="241" width="1" height="10" fill="#000" />
<rect x="79" y="241" width="5" height="5" fill="#000" />
<rect x="89" y="241" width="1" height="13" fill="#000" />
<rect x="87" y="246" width="5" height="3" fill="#000" />
<rect x="97" y="245" width="1" height="23" fill="#000" />
<rect x="95" y="248" width="5" height="20" fill="#000" />
<rect x="105" y="260" width="1" height="15" fill="#000" />
<rect x="103" y="262" width="5" height="5" fill="#000" />
<rect x="104" y="263" width="3" height="3" fill="#fff" />
<rect x="113" y="269" width="1" height="4" fill="#000" />
<rect x="111" y="269" width="5" height="4" fill="#000" />
<rect x="112" y="270" width="3" height="2" fill="#fff" />
<rect x="121" y="265" width="1" height="10" fill="#000" />
<rect x="119" y="267" width="5" height="3" fill="#000" />
<rect x="120" y="268" width="3" height="1" fill="#fff" />
<rect x="129" y="264" width="1" height="11" fill="#000" />
<rect x="127" y="267" width="5" height="3" fill="#000" />
<rect x="137" y="268" width="1" height="19" fill="#000" />
<rect x="135" y="269" width="5" height="16" fill="#000" />
<rect x="145" y="272" width="1" height="15" fill="#000" />
<rect x="143" y="276" width="5" height="9" fill="#000" />
<rect x="144" y="277" width="3" height="7" fill="#fff" />
<rect x="153" y="274" width="1" height="42" fill="#000" />
<rect x="151" y="276" width="5" height="16" fill="#000" />
<rect x="161" y="290" width="1" height="13" fill="#000" />
<rect x="159" y="293" width="5" height="10" fill="#000" />
<rect x="160" y="294" width="3" height="8" fill="#fff" />
<rect x="169" y="279" width="1" height="21" fill="#000" />
<rect x="167" y="285" width="5" height="8" fill="#000" />
<rect x="168" y="286" width="3" height="6" fill="#fff" />
<rect x="177" y="258" width="1" height="36" fill="#000" />
<rect x="175" y="276" width="5" height="10" fill="#000" />
<rect x="176" y="277" width="3" height="8" fill="#fff" />
<rect x="185" y="263" width="1" height="12" fill="#000" />
<rect x="183" y="263" width="5" height="12" fill="#000" />
<rect x="184" y="264" width="3" height="10" fill="#fff" />
<rect x="193" y="260" width="1" height="15" fill="#000" />
<rect x="191" y="264" width="5" height="2" fill="#000" />
<rect x="201" y="255" width="1" height="20" fill="#000" />
<rect x="199" y="261" width="5" height="5" fill="#000" />
<rect x="200" y="262" width="3" height="3" fill="#fff" />
<rect x="209" y="266" width="1" height="5" fill="#000" />
<rect x="207" y="268" width="5" height="1" fill="#000" />
<rect x="217" y="247" width="1" height="103" fill="#000" />
<rect x="215" y="266" width="5" height="5" fill="#000" />
<rect x="225" y="269" width="1" height="39" fill="#000" />
<rect x="223" y="270" width="5" height="29" fill="#000" />
<rect x="233" y="286" width="1" height="19" fill="#000" />
<rect x="231" y="299" width="5" height="5" fill="#000" />
<rect x="241" y="302" width="1" height="73" fill="#000" />
<rect x="239" y="303" width="5" height="55" fill="#000" />
<rect x="249" y="344" width="1" height="56" fill="#000" />
<rect x="247" y="357" width="5" height="37" fill="#000" />
<rect x="257" y="373" width="1" height="15" fill="#000" />
<rect x="255" y="385" width="5" height="3" fill="#000" />
<rect x="256" y="386" width="3" height="1" fill="#fff" />
<rect x="265" y="381" width="1" height="30" fill="#000" />
<rect x="263" y="384" width="5" height="20" fill="#000" />
<rect x="273" y="392" width="1" height="52" fill="#000" />
<rect x="271" y="404" width="5" height="30" fill="#000" />
<rect x="281" y="424" width="1" height="89" fill="#000" />
<rect x="279" y="434" width="5" height="55" fill="#000" />
<rect x="289" y="441" width="1" height="122" fill="#000" />
<rect x="287" y="487" width="5" height="15" fill="#000" />
<rect x="297" y="435" width="1" height="76" fill="#000" />
<rect x="295" y="485" width="5" height="15" fill="#000" />
<rect x="296" y="486" width="3" height="13" fill="#fff" />
<rect x="305" y="491" width="1" height="20" fill="#000" />
<rect x="303" y="499" width="5" height="9" fill="#000" />
<rect x="304" y="500" width="3" height="7" fill="#fff" />
<rect x="313" y="463" width="1" height="50" fill="#000" />
<rect x="311" y="466" width="5" height="32" fill="#000" />
<rect x="312" y="467" width="3" height="30" fill="#fff" />
<rect x="321" y="435" width="1" height="34" fill="#000" />
<rect x="319" y="440" width="5" height="26" fill="#000" />
<rect x="320" y="441" width="3" height="24" fill="#fff" />
<rect x="329" y="412" width="1" height="49" fill="#000" />
<rect x="327" y="440" width="5" height="18" fill="#000" />
<rect x="337" y="408" width="1" height="59" fill="#000" />
<rect x="335" y="412" width="5" height="45" fill="#000" />
<rect x="336" y="413" width="3" height="43" fill="#fff" />
<rect x="345" y="379" width="1" height="47" fill="#000" />
<rect x="343" y="380" width="5" height="31" fill="#000" />
<rect x="344" y="381" width="3" height="29" fill="#fff" />
<rect x="353" y="382" width="1" height="16" fill="#000" />
<rect x="351" y="386" width="5" height="10" fill="#000" />
<rect x="352" y="387" width="3" height="8" fill="#fff" />
<rect x="361" y="382" width="1" height="20" fill="#000" />
<rect x="359" y="384" width="5" height="4" fill="#000" />
<rect x="369" y="374" width="1" height="39" fill="#000" />
<rect x="367" y="387" width="5" height="8" fill="#000" />
<rect x="377" y="382" width="1" height="40" fill="#000" />
<rect x="375" y="394" width="5" height="14" fill="#000" />
<rect x="385" y="400" width="1" height="30" fill="#000" />
<rect x="383" y="407" width="5" height="8" fill="#000" />
<rect x="393" y="411" width="1" height="27" fill="#000" />
<rect x="391" y="414" width="5" height="18" fill="#000" />
<rect x="401" y="429" width="1" height="5" fill="#000" />
<rect x="399" y="430" width="5" height="4" fill="#000" />
<rect x="409" y="399" width="1" height="35" fill="#000" />
<rect x="407" y="400" width="5" height="34" fill="#000" />
<rect x="408" y="401" width="3" height="32" fill="#fff" />
<rect x="417" y="376" width="1" height="30" fill="#000" />
<rect x="415" y="391" width="5" height="9" fill="#000" />
<rect x="416" y="392" width="3" height="7" fill="#fff" />
<rect x="425" y="366" width="1" height="35" fill="#000" />
<rect x="423" y="370" width="5" height="21" fill="#000" />
<rect x="424" y="371" width="3" height="19" fill="#fff" />
<rect x="433" y="334" width="1" height="46" fill="#000" />
<rect x="431" y="341" width="5" height="29" fill="#000" />
<rect x="432" y="342" width="3" height="27" fill="#fff" />
<rect x="441" y="339" width="1" height="5" fill="#000" />
<rect x="439" y="340" width="5" height="2" fill="#000" />
<rect x="449" y="322" width="1" height="22" fill="#000" />
<rect x="447" y="324" width="5" height="17" fill="#000" />
<rect x="448" y="325" width="3" height="15" fill="#fff" />
<rect x="457" y="312" width="1" height="20" fill="#000" />
<rect x="455" y="316" width="5" height="8" fill="#000" />
<rect x="456" y="317" width="3" height="6" fill="#fff" />
<rect x="465" y="314" width="1" height="42" fill="#000" />
<rect x="463" y="314" width="5" height="36" fill="#000" />
<rect x="473" y="328" width="1" height="33" fill="#000" />
<rect x="471" y="335" width="5" height="13" fill="#000" />
<rect x="472" y="336" width="3" height="11" fill="#fff" />
<rect x="481" y="328" width="1" height="20" fill="#000" />
<rect x="479" y="335" width="5" height="3" fill="#000" />
<rect x="489" y="337" width="1" height="5" fill="#000" />
<rect x="487" y="337" width="5" height="5" fill="#000" />
<rect x="497" y="325" width="1" height="18" fill="#000" />
<rect x="495" y="340" width="5" height="2" fill="#000" />
<rect x="505" y="338" width="1" height="26" fill="#000" />
<rect x="503" y="340" width="5" height="14" fill="#000" />
<rect x="513" y="337" width="1" height="20" fill="#000" />
<rect x="511" y="352" width="5" height="1" fill="#000" />
<rect x="521" y="322" width="1" height="34" fill="#000" />
<rect x="519" y="330" width="5" height="22" fill="#000" />
<rect x="520" y="331" width="3" height="20" fill="#fff" />
<rect x="529" y="328" width="1" height="14" fill="#000" />
<rect x="527" y="329" width="5" height="2" fill="#000" />
<rect x="537" y="324" width="1" height="4" fill="#000" />
<rect x="535" y="325" width="5" height="3" fill="#000" />
<rect x="536" y="326" width="3" height="1" fill="#fff" />
<rect x="545" y="305" width="1" height="22" fill="#000" />
<rect x="543" y="311" width="5" height="15" fill="#000" />
<rect x="544" y="312" width="3" height="13" fill="#fff" />
<rect x="553" y="293" width="1" height="23" fill="#000" />
<rect x="551" y="296" width="5" height="15" fill="#000" />
<rect x="552" y="297" width="3" height="13" fill="#fff" />
<rect x="561" y="282" width="1" height="16" fill="#000" />
<rect x="559" y="282" width="5" height="14" fill="#000" />
<rect x="560" y="283" width="3" height="12" fill="#fff" />
<rect x="569" y="278" width="1" height="25" fill="#000" />
<rect x="567" y="283" width="5" height="17" fill="#000" />
<rect x="577" y="298" width="1" height="24" fill="#000" />
<rect x="575" y="298" width="5" height="24" fill="#000" />
<rect x="585" y="327" width="1" height="5" fill="#000" />
<rect x="583" y="328" width="5" height="3" fill="#000" />
<rect x="593" y="315" width="1" height="17" fill="#000" />
<rect x="591" y="317" width="5" height="13" fill="#000" />
<rect x="592" y="318" width="3" height="11" fill="#fff" />
<rect x="601" y="304" width="1" height="16" fill="#000" />
<rect x="599" y="316" width="5" height="3" fill="#000" />
<rect x="600" y="317" width="3" height="1" fill="#fff" />
<rect x="609" y="310" width="1" height="21" fill="#000" />
<rect x="607" y="315" width="5" height="11" fill="#000" />
<rect x="617" y="294" width="1" height="32" fill="#000" />
<rect x="615" y="297" width="5" height="29" fill="#000" />
<rect x="616" y="298" width="3" height="27" fill="#fff" />
<rect x="625" y="284" width="1" height="15" fill="#000" />
<rect x="623" y="290" width="5" height="6" fill="#000" />
<rect x="624" y="291" width="3" height="4" fill="#fff" />
<rect x="633" y="287" width="1" height="6" fill="#000" />
<rect x="631" y="288" width="5" height="3" fill="#000" />
<rect x="632" y="289" width="3" height="1" fill="#fff" />
<rect x="641" y="281" width="1" height="29" fill="#000" />
<rect x="639" y="288" width="5" height="13" fill="#000" />
<rect x="649" y="287" width="1" height="29" fill="#000" />
<rect x="647" y="301" width="5" height="9" fill="#000" />
<rect x="657" y="291" width="1" height="24" fill="#000" />
<rect x="655" y="310" width="5" height="1" fill="#000" />
<rect x="665" y="304" width="1" height="20" fill="#000" />
<rect x="663" y="305" width="5" height="5" fill="#000" />
<rect x="664" y="306" width="3" height="3" fill="#fff" />
<rect x="673" y="304" width="1" height="20" fill="#000" />
<rect x="671" y="305" width="5" height="15" fill="#000" />
<rect x="681" y="316" width="1" height="4" fill="#000" />
<rect x="679" y="317" width="5" height="2" fill="#000" />
<rect x="689" y="289" width="1" height="31" fill="#000" />
<rect x="687" y="291" width="5" height="27" fill="#000" />
<rect x="688" y="292" width="3" height="25" fill="#fff" />
<rect x="697" y="274" width="1" height="21" fill="#000" />
<rect x="695" y="286" width="5" height="6" fill="#000" />
<rect x="696" y="287" width="3" height="4" fill="#fff" />
<rect x="705" y="266" width="1" height="25" fill="#000" />
<rect x="703" y="273" width="5" height="13" fill="#000" />
<rect x="704" y="274" width="3" height="11" fill="#fff" />
<rect x="713" y="271" width="1" height="14" fill="#000" />
<rect x="711" y="273" width="5" height="7" fill="#000" />
<rect x="721" y="278" width="1" height="18" fill="#000" />
<rect x="719" y="279" width="5" height="10" fill="#000" />
<rect x="729" y="284" width="1" height="4" fill="#000" />
<rect x="727" y="285" width="5" height="3" fill="#000" />
<rect x="728" y="286" width="3" height="1" fill="#fff" />
<rect x="737" y="284" width="1" height="9" fill="#000" />
<rect x="735" y="284" width="5" height="1" fill="#000" />
<rect x="745" y="250" width="1" height="37" fill="#000" />
<rect x="743" y="258" width="5" height="27" fill="#000" />
<rect x="744" y="259" width="3" height="25" fill="#fff" />
<rect x="753" y="249" width="1" height="31" fill="#000" />
<rect x="751" y="258" width="5" height="7" fill="#000" />
<rect x="761" y="252" width="1" height="22" fill="#000" />
<rect x="759" y="262" width="5" height="4" fill="#000" />
<rect x="760" y="263" width="3" height="2" fill="#fff" />
<rect x="769" y="248" width="1" height="18" fill="#000" />
<rect x="767" y="254" width="5" height="8" fill="#000" />
<rect x="768" y="255" width="3" height="6" fill="#fff" />
<rect x="777" y="253" width="1" height="3" fill="#000" />
<rect x="775" y="254" width="5" height="2" fill="#000" />
<rect x="785" y="216" width="1" height="39" fill="#000" />
<rect x="783" y="221" width="5" height="34" fill="#000" />
<rect x="784" y="222" width="3" height="32" fill="#fff" />
<rect x="793" y="184" width="1" height="40" fill="#000" />
<rect x="791" y="186" width="5" height="35" fill="#000" />
<rect x="792" y="187" width="3" height="33" fill="#fff" />
<rect x="801" y="167" width="1" height="35" fill="#000" />
<rect x="799" y="182" width="5" height="4" fill="#000" />
<rect x="800" y="183" width="3" height="2" fill="#fff" />
<rect x="809" y="166" width="1" height="29" fill="#000" />
<rect x="807" y="179" width="5" height="4" fill="#000" />
<rect x="808" y="180" width="3" height="2" fill="#fff" />
<rect x="817" y="159" width="1" height="23" fill="#000" />
<rect x="815" y="171" width="5" height="9" fill="#000" />
<rect x="816" y="172" width="3" height="7" fill="#fff" />
<rect x="825" y="162" width="1" height="6" fill="#000" />
<rect x="823" y="163" width="5" height="4" fill="#000" />
<rect x="824" y="164" width="3" height="2" fill="#fff" />
<rect x="833" y="155" width="1" height="19" fill="#000" />
<rect x="831" y="156" width="5" height="7" fill="#000" />
<rect x="832" y="157" width="3" height="5" fill="#fff" />
<rect x="841" y="151" width="1" height="40" fill="#000" />
<rect x="839" y="156" width="5" height="24" fill="#000" />
<rect x="849" y="145" width="1" height="37" fill="#000" />
<rect x="847" y="171" width="5" height="9" fill="#000" />
<rect x="848" y="172" width="3" height="7" fill="#fff" />
<rect x="857" y="164" width="1" height="48" fill="#000" />
<rect x="855" y="171" width="5" height="39" fill="#000" />
<rect x="865" y="186" width="1" height="31" fill="#000" />
<rect x="863" y="205" width="5" height="4" fill="#000" />
<rect x="864" y="206" width="3" height="2" fill="#fff" />
<rect x="873" y="205" width="1" height="6" fill="#000" />
<rect x="871" y="207" width="5" height="4" fill="#000" />
<rect x="881" y="173" width="1" height="51" fill="#000" />
<rect x="879" y="173" width="5" height="37" fill="#000" />
<rect x="880" y="174" width="3" height="35" fill="#fff" />
<rect x="889" y="169" width="1" height="39" fill="#000" />
<rect x="887" y="173" width="5" height="19" fill="#000" />
<rect x="897" y="183" width="1" height="20" fill="#000" />
<rect x="895" y="191" width="5" height="6" fill="#000" />
<rect x="905" y="189" width="1" height="19" fill="#000" />
<rect x="903" y="196" width="5" height="6" fill="#000" />
<rect x="913" y="186" width="1" height="23" fill="#000" />
<rect x="911" y="201" width="5" height="3" fill="#000" />
<rect x="921" y="209" width="1" height="5" fill="#000" />
<rect x="919" y="210" width="5" height="2" fill="#000" />
<rect x="929" y="180" width="1" height="33" fill="#000" />
<rect x="927" y="182" width="5" height="30" fill="#000" />
<rect x="928" y="183" width="3" height="28" fill="#fff" />
<rect x="937" y="169" width="1" height="33" fill="#000" />
<rect x="935" y="178" width="5" height="5" fill="#000" />
<rect x="936" y="179" width="3" height="3" fill="#fff" />
<rect x="945" y="173" width="1" height="29" fill="#000" />
<rect x="943" y="178" width="5" height="24" fill="#000" />
<rect x="953" y="191" width="1" height="14" fill="#000" />
<rect x="951" y="193" width="5" height="7" fill="#000" />
<rect x="952" y="194" width="3" height="5" fill="#fff" />
<rect x="961" y="191" width="1" height="16" fill="#000" />
<rect x="959" y="193" width="5" height="6" fill="#000" />
<rect x="969" y="199" width="1" height="4" fill="#000" />
<rect x="967" y="200" width="5" height="2" fill="#000" />
<rect x="977" y="194" width="1" height="12" fill="#000" />
<rect x="975" y="198" width="5" height="3" fill="#000" />
<rect x="976" y="199" width="3" height="1" fill="#fff" />
<rect x="985" y="186" width="1" height="23" fill="#000" />
<rect x="983" y="190" width="5" height="8" fill="#000" />
<rect x="984" y="191" width="3" height="6" fill="#fff" />
<rect x="993" y="178" width="1" height="19" fill="#000" />
<rect x="991" y="186" width="5" height="3" fill="#000" />
<rect x="992" y="187" width="3" height="1" fill="#fff" />
<rect x="1001" y="176" width="1" height="14" fill="#000" />
<rect x="999" y="184" width="5" height="4" fill="#000" />
<rect x="1000" y="185" width="3" height="2" fill="#fff" />
<rect x="1009" y="178" width="1" height="9" fill="#000" />
<rect x="1007" y="180" width="5" height="4" fill="#000" />
<rect x="1008" y="181" width="3" height="2" fill="#fff" />
<rect x="1017" y="174" width="1" height="7" fill="#000" />
<rect x="1015" y="176" width="5" height="4" fill="#000" />
<rect x="1016" y="177" width="3" height="2" fill="#fff" />
<rect x="1025" y="166" width="1" height="12" fill="#000" />
<rect x="1023" y="170" width="5" height="8" fill="#000" />
<rect x="1024" y="171" width="3" height="6" fill="#fff" />
<rect x="1033" y="163" width="1" height="22" fill="#000" />
<rect x="1031" y="170" width="5" height="9" fill="#000" />
<rect x="1041" y="166" width="1" height="17" fill="#000" />
<rect x="1039" y="167" width="5" height="11" fill="#000" />
<rect x="1040" y="168" width="3" height="9" fill="#fff" />
<rect x="1049" y="162" width="1" height="15" fill="#000" />
<rect x="1047" y="165" width="5" height="9" fill="#000" />
<rect x="1057" y="171" width="1" height="13" fill="#000" />
<rect x="1055" y="173" width="5" height="5" fill="#000" />
<rect x="1065" y="175" width="1" height="2" fill="#000" />
<rect x="1063" y="175" width="5" height="2" fill="#000" />
<rect x="1073" y="164" width="1" height="17" fill="#000" />
<rect x="1071" y="176" width="5" height="5" fill="#000" />
<rect x="1081" y="164" width="1" height="21" fill="#000" />
<rect x="1079" y="166" width="5" height="14" fill="#000" />
<rect x="1080" y="167" width="3" height="12" fill="#fff" />
<rect x="1089" y="154" width="1" height="14" fill="#000" />
<rect x="1087" y="160" width="5" height="7" fill="#000" />
<rect x="1088" y="161" width="3" height="5" fill="#fff" />
<rect x="1097" y="159" width="1" height="15" fill="#000" />
<rect x="1095" y="160" width="5" height="10" fill="#000" />
<rect x="1105" y="161" width="1" height="10" fill="#000" />
<rect x="1103" y="162" width="5" height="8" fill="#000" />
<rect x="1104" y="163" width="3" height="6" fill="#fff" />
<rect x="1113" y="162" width="1" height="2" fill="#000" />
<rect x="1111" y="162" width="5" height="2" fill="#000" />
<rect x="1121" y="156" width="1" height="15" fill="#000" />
<rect x="1119" y="158" width="5" height="5" fill="#000" />
<rect x="1120" y="159" width="3" height="3" fill="#fff" />
<rect x="1129" y="124" width="1" height="35" fill="#000" />
<rect x="1127" y="125" width="5" height="32" fill="#000" />
<rect x="1128" y="126" width="3" height="30" fill="#fff" />
<rect x="1137" y="114" width="1" height="20" fill="#000" />
<rect x="1135" y="125" width="5" height="2" fill="#000" />
<rect x="1145" y="119" width="1" height="20" fill="#000" />
<rect x="1143" y="126" width="5" height="11" fill="#000" />
<rect x="1153" y="131" width="1" height="15" fill="#000" />
<rect x="1151" y="136" width="5" height="2" fill="#000" />
<rect x="1161" y="135" width="1" height="5" fill="#000" />
<rect x="1159" y="137" width="5" height="1" fill="#000" />
<rect x="1169" y="121" width="1" height="17" fill="#000" />
<rect x="1167" y="121" width="5" height="17" fill="#000" />
<rect x="1168" y="122" width="3" height="15" fill="#fff" />
<rect x="1177" y="115" width="1" height="18" fill="#000" />
<rect x="1175" y="119" width="5" height="3" fill="#000" />
<rect x="1185" y="110" width="1" height="14" fill="#000" />
<rect x="1183" y="116" width="5" height="5" fill="#000" />
<rect x="1184" y="117" width="3" height="3" fill="#fff" />
<rect x="1193" y="108" width="1" height="23" fill="#000" />
<rect x="1191" y="108" width="5" height="10" fill="#000" />
<rect x="1192" y="109" width="3" height="8" fill="#fff" />
<rect x="1201" y="102" width="1" height="26" fill="#000" />
<rect x="1199" y="108" width="5" height="16" fill="#000" />
<rect x="1209" y="122" width="1" height="5" fill="#000" />
<rect x="1207" y="123" width="5" height="2" fill="#000" />
<rect x="1217" y="122" width="1" height="21" fill="#000" />
<rect x="1215" y="123" width="5" height="8" fill="#000" />
<rect x="1225" y="115" width="1" height="20" fill="#000" />
<rect x="1223" y="115" width="5" height="16" fill="#000" />
<rect x="1224" y="116" width="3" height="14" fill="#fff" />
<rect x="1233" y="106" width="1" height="12" fill="#000" />
<rect x="1231" y="110" width="5" height="6" fill="#000" />
<rect x="1232" y="111" width="3" height="4" fill="#fff" />
<rect x="1241" y="98" width="1" height="19" fill="#000" />
<rect x="1239" y="101" width="5" height="9" fill="#000" />
<rect x="1240" y="102" width="3" height="7" fill="#fff" />
<rect x="1249" y="97" width="1" height="28" fill="#000" />
<rect x="1247" y="101" width="5" height="22" fill="#000" />
<rect x="1257" y="120" width="1" height="3" fill="#000" />
<rect x="1255" y="121" width="5" height="2" fill="#000" />
<rect x="1265" y="113" width="1" height="13" fill="#000" />
<rect x="1263" y="120" width="5" height="2" fill="#000" />
<rect x="1273" y="112" width="1" height="15" fill="#000" />
<rect x="1271" y="121" width="5" height="3" fill="#000" />
<rect x="1281" y="115" width="1" height="19" fill="#000" />
<rect x="1279" y="118" width="5" height="6" fill="#000" />
<rect x="1280" y="119" width="3" height="4" fill="#fff" />
<rect x="1289" y="112" width="1" height="15" fill="#000" />
<rect x="1287" y="118" width="5" height="5" fill="#000" />
<rect x="1297" y="115" width="1" height="13" fill="#000" />
<rect x="1295" y="117" width="5" height="6" fill="#000" />
<rect x="1296" y="118" width="3" height="4" fill="#fff" />
<rect x="1305" y="112" width="1" height="5" fill="#000" />
<rect x="1303" y="112" width="5" height="4" fill="#000" />
<rect x="1313" y="102" width="1" height="15" fill="#000" />
<rect x="1311" y="105" width="5" height="7" fill="#000" />
<rect x="1312" y="106" width="3" height="5" fill="#fff" />
<rect x="1321" y="91" width="1" height="16" fill="#000" />
<rect x="1319" y="94" width="5" height="12" fill="#000" />
<rect x="1320" y="95" width="3" height="10" fill="#fff" />
<rect x="1329" y="91" width="1" height="25" fill="#000" />
<rect x="1327" y="94" width="5" height="19" fill="#000" />
<rect x="1337" y="107" width="1" height="20" fill="#000" />
<rect x="1335" y="109" width="5" height="4" fill="#000" />
<rect x="1336" y="110" width="3" height="2" fill="#fff" />
<rect x="1345" y="105" width="1" height="21" fill="#000" />
<rect x="1343" y="108" width="5" height="13" fill="#000" />
<rect x="1353" y="116" width="1" height="8" fill="#000" />
<rect x="1351" y="117" width="5" height="6" fill="#000" />
<rect x="1361" y="108" width="1" height="16" fill="#000" />
<rect x="1359" y="117" width="5" height="6" fill="#000" />
<rect x="1360" y="118" width="3" height="4" fill="#fff" />
<rect x="1369" y="107" width="1" height="16" fill="#000" />
<rect x="1367" y="109" width="5" height="8" fill="#000" />
<rect x="1368" y="110" width="3" height="6" fill="#fff" />
<rect x="1377" y="98" width="1" height="15" fill="#000" />
<rect x="1375" y="98" width="5" height="11" fill="#000" />
<rect x="1376" y="99" width="3" height="9" fill="#fff" />
<rect x="1385" y="91" width="1" height="13" fill="#000" />
<rect x="1383" y="91" width="5" height="7" fill="#000" />
<rect x="1384" y="92" width="3" height="5" fill="#fff" />
<rect x="1393" y="66" width="1" height="29" fill="#000" />
<rect x="1391" y="66" width="5" height="25" fill="#000" />
<rect x="1392" y="67" width="3" height="23" fill="#fff" />
<rect x="1401" y="64" width="1" height="3" fill="#000" />
<rect x="1399" y="64" width="5" height="3" fill="#000" />
<rect x="1400" y="65" width="3" height="1" fill="#fff" />
<rect x="1409" y="54" width="1" height="18" fill="#000" />
<rect x="1407" y="61" width="5" height="3" fill="#000" />
<rect x="1408" y="62" width="3" height="1" fill="#fff" />
<rect x="1417" y="56" width="1" height="11" fill="#000" />
<rect x="1415" y="60" width="5" height="2" fill="#000" />
<rect x="1425" y="60" width="1" height="22" fill="#000" />
<rect x="1423" y="61" width="5" height="8" fill="#000" />
</g>
<g class="c">
<rect x="1154" y="87" width="8" height="1" fill="#ff0000" />
<rect x="1161" y="85" width="4" height="4" fill="#ff0000" />
<rect x="1162" y="86" width="1" height="2" fill="#fff" />
<rect x="1164" y="75" width="74" height="25" fill="#ff0000" />
<rect x="1165" y="76" width="72" height="23" fill="#fff" />
</g>
<text x="1165.2" y="96" font-size="23.6" fill="#ff0000" text-anchor="start" font-weight="normal" textLength="71.4" lengthAdjust="spacingAndGlyphs" >0.72789</text>
<polygon class="c" fill="#ff0000" points="946.12,204.44 1230.87,103.32 1229.63,99.84 944.88,200.96"/>
<polygon class="c" fill="#ff0000" points="1239.20,98.40 1231.05,106.81 1227.57,97.01"/>
<polygon class="c" fill="#ff0000" points="1237.63,100.76 1349.04,124.39 1349.79,120.86 1238.37,97.24"/>
<polygon class="c" fill="#ff0000" points="1359.20,124.70 1347.40,127.31 1349.48,117.53"/>
<polygon class="c" fill="#ff0000" points="1360.49,125.64 1416.39,57.20 1413.60,54.92 1357.71,123.36"/>
<polygon class="c" fill="#ff0000" points="1421.00,48.70 1419.01,60.63 1409.71,53.04"/>
<polygon class="c" fill="#ff0000" points="1418.69,51.36 1423.11,71.31 1426.34,70.59 1421.91,50.64"/>
<polygon class="c" fill="#ff0000" points="1427.00,81.20 1419.63,71.06 1429.39,68.89"/>
<g class="c">
<rect x="1326" y="83" width="142" height="9" fill="#00ff00" />
</g>
<text x="1505.3" y="98.3" font-size="20.6" fill="#00ff00" text-anchor="start" font-weight="bold" letter-spacing="2.4" style="font-family:'Liberation Serif','Noto Serif CJK SC',serif">多空转折点</text>
<g class="c">
<rect x="0" y="24" width="1687" height="1" fill="#000" />
<rect x="1686" y="24" width="1" height="902" fill="#000" />
<rect x="0" y="577" width="1687" height="1" fill="#000" />
<rect x="0" y="579" width="1687" height="1" fill="#000" />
<rect x="0" y="749" width="1687" height="1" fill="#000" />
<rect x="0" y="751" width="1687" height="1" fill="#000" />
<rect x="0" y="925" width="1687" height="1" fill="#000" />
<rect x="1687" y="46" width="3" height="1" fill="#000" />
<rect x="1687" y="79" width="3" height="1" fill="#000" />
<rect x="1687" y="112" width="3" height="1" fill="#000" />
<rect x="1687" y="145" width="3" height="1" fill="#000" />
<rect x="1687" y="178" width="3" height="1" fill="#000" />
<rect x="1687" y="211" width="3" height="1" fill="#000" />
<rect x="1687" y="244" width="3" height="1" fill="#000" />
<rect x="1687" y="277" width="3" height="1" fill="#000" />
<rect x="1687" y="310" width="3" height="1" fill="#000" />
<rect x="1687" y="343" width="3" height="1" fill="#000" />
<rect x="1687" y="376" width="3" height="1" fill="#000" />
<rect x="1687" y="409" width="3" height="1" fill="#000" />
<rect x="1687" y="442" width="3" height="1" fill="#000" />
<rect x="1687" y="475" width="3" height="1" fill="#000" />
<rect x="1687" y="508" width="3" height="1" fill="#000" />
<rect x="1687" y="541" width="3" height="1" fill="#000" />
<rect x="1687" y="574" width="3" height="1" fill="#000" />
</g>
<text x="1692" y="50.4" font-size="10" fill="#000" text-anchor="start" font-weight="normal" textLength="33" lengthAdjust="spacingAndGlyphs" >0.74340</text>
<text x="1692" y="83.4" font-size="10" fill="#000" text-anchor="start" font-weight="normal" textLength="33" lengthAdjust="spacingAndGlyphs" >0.73115</text>
<text x="1692" y="116.4" font-size="10" fill="#000" text-anchor="start" font-weight="normal" textLength="33" lengthAdjust="spacingAndGlyphs" >0.71855</text>
<text x="1692" y="149.4" font-size="10" fill="#000" text-anchor="start" font-weight="normal" textLength="33" lengthAdjust="spacingAndGlyphs" >0.70630</text>
<text x="1692" y="182.4" font-size="10" fill="#000" text-anchor="start" font-weight="normal" textLength="33" lengthAdjust="spacingAndGlyphs" >0.69405</text>
<text x="1692" y="215.4" font-size="10" fill="#000" text-anchor="start" font-weight="normal" textLength="33" lengthAdjust="spacingAndGlyphs" >0.68180</text>
<text x="1692" y="248.4" font-size="10" fill="#000" text-anchor="start" font-weight="normal" textLength="33" lengthAdjust="spacingAndGlyphs" >0.66955</text>
<text x="1692" y="281.4" font-size="10" fill="#000" text-anchor="start" font-weight="normal" textLength="33" lengthAdjust="spacingAndGlyphs" >0.65730</text>
<text x="1692" y="314.4" font-size="10" fill="#000" text-anchor="start" font-weight="normal" textLength="33" lengthAdjust="spacingAndGlyphs" >0.64505</text>
<text x="1692" y="347.4" font-size="10" fill="#000" text-anchor="start" font-weight="normal" textLength="33" lengthAdjust="spacingAndGlyphs" >0.63280</text>
<text x="1692" y="380.4" font-size="10" fill="#000" text-anchor="start" font-weight="normal" textLength="33" lengthAdjust="spacingAndGlyphs" >0.62055</text>
<text x="1692" y="413.4" font-size="10" fill="#000" text-anchor="start" font-weight="normal" textLength="33" lengthAdjust="spacingAndGlyphs" >0.60830</text>
<text x="1692" y="446.4" font-size="10" fill="#000" text-anchor="start" font-weight="normal" textLength="33" lengthAdjust="spacingAndGlyphs" >0.59605</text>
<text x="1692" y="479.4" font-size="10" fill="#000" text-anchor="start" font-weight="normal" textLength="33" lengthAdjust="spacingAndGlyphs" >0.58380</text>
<text x="1692" y="512.4" font-size="10" fill="#000" text-anchor="start" font-weight="normal" textLength="33" lengthAdjust="spacingAndGlyphs" >0.57155</text>
<text x="1692" y="545.4" font-size="10" fill="#000" text-anchor="start" font-weight="normal" textLength="33" lengthAdjust="spacingAndGlyphs" >0.55930</text>
<text x="1692" y="578.4" font-size="10" fill="#000" text-anchor="start" font-weight="normal" textLength="33" lengthAdjust="spacingAndGlyphs" >0.54705</text>
<g class="c">
<rect x="1688" y="26" width="41" height="11" fill="#ff0000" />
<rect x="1681" y="30" width="5" height="5" fill="#ff0000" />
<rect x="1682" y="31" width="3" height="3" fill="#fff" />
</g>
<text x="1692" y="35.4" font-size="10" fill="#fff" text-anchor="start" font-weight="normal" textLength="33" lengthAdjust="spacingAndGlyphs" >0.74830</text>
<g class="c">
<rect x="1688" y="46" width="41" height="11" fill="#ff0000" />
<rect x="1681" y="50" width="5" height="5" fill="#ff0000" />
<rect x="1682" y="51" width="3" height="3" fill="#fff" />
</g>
<text x="1692" y="55.4" font-size="10" fill="#fff" text-anchor="start" font-weight="normal" textLength="33" lengthAdjust="spacingAndGlyphs" >0.74088</text>
<g class="c">
<rect x="1688" y="67" width="41" height="11" fill="#000000" />
</g>
<text x="1692" y="76.4" font-size="10" fill="#fff" text-anchor="start" font-weight="normal" textLength="33" lengthAdjust="spacingAndGlyphs" >0.73367</text>
<g class="c">
<rect x="1688" y="81" width="41" height="11" fill="#ffa500" />
<rect x="1681" y="85" width="5" height="5" fill="#ffa500" />
<rect x="1682" y="86" width="3" height="3" fill="#fff" />
</g>
<text x="1692" y="90.4" font-size="10" fill="#fff" text-anchor="start" font-weight="normal" textLength="33" lengthAdjust="spacingAndGlyphs" >0.72789</text>
<g class="c">
<rect x="1688" y="98" width="41" height="11" fill="#0000ff" />
<rect x="1681" y="102" width="5" height="5" fill="#0000ff" />
<rect x="1682" y="103" width="3" height="3" fill="#fff" />
</g>
<text x="1692" y="107.4" font-size="10" fill="#fff" text-anchor="start" font-weight="normal" textLength="33" lengthAdjust="spacingAndGlyphs" >0.72158</text>
<g class="c">
<rect x="1688" y="117" width="41" height="11" fill="#0000ff" />
<rect x="1681" y="121" width="5" height="5" fill="#0000ff" />
<rect x="1682" y="122" width="3" height="3" fill="#fff" />
</g>
<text x="1692" y="126.4" font-size="10" fill="#fff" text-anchor="start" font-weight="normal" textLength="33" lengthAdjust="spacingAndGlyphs" >0.71452</text>
<polygon points="1426,25 1435.5,25 1430.7,29.8" fill="#c0c0c0" class="c"/>
<polygon points="0,35.5 3.5,35.5 0,32" fill="#000"/>
<text x="9" y="36" font-size="10.2" fill="#000" text-anchor="start" font-weight="normal" textLength="215" lengthAdjust="spacingAndGlyphs" >AUDUSD-,Daily  0.73758 0.73794 0.73004 0.73367</text>
<g class="c">
<rect x="1" y="647" width="1" height="19" fill="#c0c0c0" />
<rect x="9" y="647" width="1" height="19" fill="#c0c0c0" />
<rect x="17" y="647" width="1" height="20" fill="#c0c0c0" />
<rect x="25" y="647" width="1" height="19" fill="#c0c0c0" />
<rect x="33" y="647" width="1" height="19" fill="#c0c0c0" />
<rect x="41" y="647" width="1" height="18" fill="#c0c0c0" />
<rect x="49" y="647" width="1" height="17" fill="#c0c0c0" />
<rect x="57" y="647" width="1" height="15" fill="#c0c0c0" />
<rect x="65" y="647" width="1" height="14" fill="#c0c0c0" />
<rect x="73" y="647" width="1" height="13" fill="#c0c0c0" />
<rect x="81" y="647" width="1" height="13" fill="#c0c0c0" />
<rect x="89" y="647" width="1" height="13" fill="#c0c0c0" />
<rect x="97" y="647" width="1" height="14" fill="#c0c0c0" />
<rect x="105" y="647" width="1" height="16" fill="#c0c0c0" />
<rect x="113" y="647" width="1" height="17" fill="#c0c0c0" />
<rect x="121" y="647" width="1" height="19" fill="#c0c0c0" />
<rect x="129" y="647" width="1" height="19" fill="#c0c0c0" />
<rect x="137" y="647" width="1" height="21" fill="#c0c0c0" />
<rect x="145" y="647" width="1" height="22" fill="#c0c0c0" />
<rect x="153" y="647" width="1" height="23" fill="#c0c0c0" />
<rect x="161" y="647" width="1" height="24" fill="#c0c0c0" />
<rect x="169" y="647" width="1" height="24" fill="#c0c0c0" />
<rect x="177" y="647" width="1" height="21" fill="#c0c0c0" />
<rect x="185" y="647" width="1" height="18" fill="#c0c0c0" />
<rect x="193" y="647" width="1" height="16" fill="#c0c0c0" />
<rect x="201" y="647" width="1" height="14" fill="#c0c0c0" />
<rect x="209" y="647" width="1" height="13" fill="#c0c0c0" />
<rect x="217" y="647" width="1" height="13" fill="#c0c0c0" />
<rect x="225" y="647" width="1" height="15" fill="#c0c0c0" />
<rect x="233" y="647" width="1" height="19" fill="#c0c0c0" />
<rect x="241" y="647" width="1" height="25" fill="#c0c0c0" />
<rect x="249" y="647" width="1" height="37" fill="#c0c0c0" />
<rect x="257" y="647" width="1" height="44" fill="#c0c0c0" />
<rect x="265" y="647" width="1" height="50" fill="#c0c0c0" />
<rect x="273" y="647" width="1" height="60" fill="#c0c0c0" />
<rect x="281" y="647" width="1" height="73" fill="#c0c0c0" />
<rect x="289" y="647" width="1" height="82" fill="#c0c0c0" />
<rect x="297" y="647" width="1" height="89" fill="#c0c0c0" />
<rect x="305" y="647" width="1" height="94" fill="#c0c0c0" />
<rect x="313" y="647" width="1" height="92" fill="#c0c0c0" />
<rect x="321" y="647" width="1" height="88" fill="#c0c0c0" />
<rect x="329" y="647" width="1" height="85" fill="#c0c0c0" />
<rect x="337" y="647" width="1" height="76" fill="#c0c0c0" />
<rect x="345" y="647" width="1" height="64" fill="#c0c0c0" />
<rect x="353" y="647" width="1" height="55" fill="#c0c0c0" />
<rect x="361" y="647" width="1" height="47" fill="#c0c0c0" />
<rect x="369" y="647" width="1" height="42" fill="#c0c0c0" />
<rect x="377" y="647" width="1" height="38" fill="#c0c0c0" />
<rect x="385" y="647" width="1" height="37" fill="#c0c0c0" />
<rect x="393" y="647" width="1" height="36" fill="#c0c0c0" />
<rect x="401" y="647" width="1" height="35" fill="#c0c0c0" />
<rect x="409" y="647" width="1" height="31" fill="#c0c0c0" />
<rect x="417" y="647" width="1" height="25" fill="#c0c0c0" />
<rect x="425" y="647" width="1" height="18" fill="#c0c0c0" />
<rect x="433" y="647" width="1" height="10" fill="#c0c0c0" />
<rect x="441" y="646" width="1" height="1" fill="#c0c0c0" />
<rect x="449" y="643" width="1" height="4" fill="#c0c0c0" />
<rect x="457" y="636" width="1" height="11" fill="#c0c0c0" />
<rect x="465" y="635" width="1" height="12" fill="#c0c0c0" />
<rect x="473" y="632" width="1" height="15" fill="#c0c0c0" />
<rect x="481" y="630" width="1" height="17" fill="#c0c0c0" />
<rect x="489" y="630" width="1" height="17" fill="#c0c0c0" />
<rect x="497" y="629" width="1" height="18" fill="#c0c0c0" />
<rect x="505" y="631" width="1" height="16" fill="#c0c0c0" />
<rect x="513" y="633" width="1" height="14" fill="#c0c0c0" />
<rect x="521" y="632" width="1" height="15" fill="#c0c0c0" />
<rect x="529" y="630" width="1" height="17" fill="#c0c0c0" />
<rect x="537" y="628" width="1" height="19" fill="#c0c0c0" />
<rect x="545" y="626" width="1" height="21" fill="#c0c0c0" />
<rect x="553" y="622" width="1" height="25" fill="#c0c0c0" />
<rect x="561" y="618" width="1" height="29" fill="#c0c0c0" />
<rect x="569" y="618" width="1" height="29" fill="#c0c0c0" />
<rect x="577" y="620" width="1" height="27" fill="#c0c0c0" />
<rect x="585" y="623" width="1" height="24" fill="#c0c0c0" />
<rect x="593" y="624" width="1" height="23" fill="#c0c0c0" />
<rect x="601" y="625" width="1" height="22" fill="#c0c0c0" />
<rect x="609" y="628" width="1" height="19" fill="#c0c0c0" />
<rect x="617" y="626" width="1" height="21" fill="#c0c0c0" />
<rect x="625" y="624" width="1" height="23" fill="#c0c0c0" />
<rect x="633" y="623" width="1" height="24" fill="#c0c0c0" />
<rect x="641" y="624" width="1" height="23" fill="#c0c0c0" />
<rect x="649" y="626" width="1" height="21" fill="#c0c0c0" />
<rect x="657" y="628" width="1" height="19" fill="#c0c0c0" />
<rect x="665" y="629" width="1" height="18" fill="#c0c0c0" />
<rect x="673" y="632" width="1" height="15" fill="#c0c0c0" />
<rect x="681" y="634" width="1" height="13" fill="#c0c0c0" />
<rect x="689" y="632" width="1" height="15" fill="#c0c0c0" />
<rect x="697" y="631" width="1" height="16" fill="#c0c0c0" />
<rect x="705" y="628" width="1" height="19" fill="#c0c0c0" />
<rect x="713" y="627" width="1" height="20" fill="#c0c0c0" />
<rect x="721" y="628" width="1" height="19" fill="#c0c0c0" />
<rect x="729" y="628" width="1" height="19" fill="#c0c0c0" />
<rect x="737" y="629" width="1" height="18" fill="#c0c0c0" />
<rect x="745" y="625" width="1" height="22" fill="#c0c0c0" />
<rect x="753" y="624" width="1" height="23" fill="#c0c0c0" />
<rect x="761" y="623" width="1" height="24" fill="#c0c0c0" />
<rect x="769" y="622" width="1" height="25" fill="#c0c0c0" />
<rect x="777" y="621" width="1" height="26" fill="#c0c0c0" />
<rect x="785" y="617" width="1" height="30" fill="#c0c0c0" />
<rect x="793" y="610" width="1" height="37" fill="#c0c0c0" />
<rect x="801" y="604" width="1" height="43" fill="#c0c0c0" />
<rect x="809" y="599" width="1" height="48" fill="#c0c0c0" />
<rect x="817" y="595" width="1" height="52" fill="#c0c0c0" />
<rect x="825" y="592" width="1" height="55" fill="#c0c0c0" />
<rect x="833" y="589" width="1" height="58" fill="#c0c0c0" />
<rect x="841" y="590" width="1" height="57" fill="#c0c0c0" />
<rect x="849" y="591" width="1" height="56" fill="#c0c0c0" />
<rect x="857" y="597" width="1" height="50" fill="#c0c0c0" />
<rect x="865" y="601" width="1" height="46" fill="#c0c0c0" />
<rect x="873" y="606" width="1" height="41" fill="#c0c0c0" />
<rect x="881" y="606" width="1" height="41" fill="#c0c0c0" />
<rect x="889" y="608" width="1" height="39" fill="#c0c0c0" />
<rect x="897" y="611" width="1" height="36" fill="#c0c0c0" />
<rect x="905" y="615" width="1" height="32" fill="#c0c0c0" />
<rect x="913" y="618" width="1" height="29" fill="#c0c0c0" />
<rect x="921" y="622" width="1" height="25" fill="#c0c0c0" />
<rect x="929" y="621" width="1" height="26" fill="#c0c0c0" />
<rect x="937" y="621" width="1" height="26" fill="#c0c0c0" />
<rect x="945" y="624" width="1" height="23" fill="#c0c0c0" />
<rect x="953" y="625" width="1" height="22" fill="#c0c0c0" />
<rect x="961" y="628" width="1" height="19" fill="#c0c0c0" />
<rect x="969" y="630" width="1" height="17" fill="#c0c0c0" />
<rect x="977" y="631" width="1" height="16" fill="#c0c0c0" />
<rect x="985" y="632" width="1" height="15" fill="#c0c0c0" />
<rect x="993" y="632" width="1" height="15" fill="#c0c0c0" />
<rect x="1001" y="632" width="1" height="15" fill="#c0c0c0" />
<rect x="1009" y="631" width="1" height="16" fill="#c0c0c0" />
<rect x="1017" y="630" width="1" height="17" fill="#c0c0c0" />
<rect x="1025" y="630" width="1" height="17" fill="#c0c0c0" />
<rect x="1033" y="631" width="1" height="16" fill="#c0c0c0" />
<rect x="1041" y="629" width="1" height="18" fill="#c0c0c0" />
<rect x="1049" y="630" width="1" height="17" fill="#c0c0c0" />
<rect x="1057" y="632" width="1" height="15" fill="#c0c0c0" />
<rect x="1065" y="631" width="1" height="16" fill="#c0c0c0" />
<rect x="1073" y="633" width="1" height="14" fill="#c0c0c0" />
<rect x="1081" y="632" width="1" height="15" fill="#c0c0c0" />
<rect x="1089" y="632" width="1" height="15" fill="#c0c0c0" />
<rect x="1097" y="632" width="1" height="15" fill="#c0c0c0" />
<rect x="1105" y="632" width="1" height="15" fill="#c0c0c0" />
<rect x="1113" y="632" width="1" height="15" fill="#c0c0c0" />
<rect x="1121" y="631" width="1" height="16" fill="#c0c0c0" />
<rect x="1129" y="627" width="1" height="20" fill="#c0c0c0" />
<rect x="1137" y="624" width="1" height="23" fill="#c0c0c0" />
<rect x="1145" y="624" width="1" height="23" fill="#c0c0c0" />
<rect x="1153" y="623" width="1" height="24" fill="#c0c0c0" />
<rect x="1161" y="623" width="1" height="24" fill="#c0c0c0" />
<rect x="1169" y="622" width="1" height="25" fill="#c0c0c0" />
<rect x="1177" y="621" width="1" height="26" fill="#c0c0c0" />
<rect x="1185" y="620" width="1" height="27" fill="#c0c0c0" />
<rect x="1193" y="618" width="1" height="29" fill="#c0c0c0" />
<rect x="1201" y="619" width="1" height="28" fill="#c0c0c0" />
<rect x="1209" y="621" width="1" height="26" fill="#c0c0c0" />
<rect x="1217" y="623" width="1" height="24" fill="#c0c0c0" />
<rect x="1225" y="622" width="1" height="25" fill="#c0c0c0" />
<rect x="1233" y="622" width="1" height="25" fill="#c0c0c0" />
<rect x="1241" y="622" width="1" height="25" fill="#c0c0c0" />
<rect x="1249" y="624" width="1" height="23" fill="#c0c0c0" />
<rect x="1257" y="625" width="1" height="22" fill="#c0c0c0" />
<rect x="1265" y="627" width="1" height="20" fill="#c0c0c0" />
<rect x="1273" y="629" width="1" height="18" fill="#c0c0c0" />
<rect x="1281" y="630" width="1" height="17" fill="#c0c0c0" />
<rect x="1289" y="631" width="1" height="16" fill="#c0c0c0" />
<rect x="1297" y="632" width="1" height="15" fill="#c0c0c0" />
<rect x="1305" y="632" width="1" height="15" fill="#c0c0c0" />
<rect x="1313" y="631" width="1" height="16" fill="#c0c0c0" />
<rect x="1321" y="630" width="1" height="17" fill="#c0c0c0" />
<rect x="1329" y="631" width="1" height="16" fill="#c0c0c0" />
<rect x="1337" y="632" width="1" height="15" fill="#c0c0c0" />
<rect x="1345" y="634" width="1" height="13" fill="#c0c0c0" />
<rect x="1353" y="635" width="1" height="12" fill="#c0c0c0" />
<rect x="1361" y="637" width="1" height="10" fill="#c0c0c0" />
<rect x="1369" y="637" width="1" height="10" fill="#c0c0c0" />
<rect x="1377" y="636" width="1" height="11" fill="#c0c0c0" />
<rect x="1385" y="634" width="1" height="13" fill="#c0c0c0" />
<rect x="1393" y="630" width="1" height="17" fill="#c0c0c0" />
<rect x="1401" y="626" width="1" height="21" fill="#c0c0c0" />
<rect x="1409" y="624" width="1" height="23" fill="#c0c0c0" />
<rect x="1417" y="622" width="1" height="25" fill="#c0c0c0" />
<rect x="1425" y="622" width="1" height="25" fill="#c0c0c0" />
</g>
<path class="c" d="M3 665.5h3M9 666.5h3M15 667.5h3M21 667.5h3M27 666.5h3M33 666.5h3M39 666.5h3M45 665.5h3M51 665.5h3M57 665.5h3M63 665.5h3M69 665.5h1M70 664.5h2M75 664.5h3M81 664.5h3M87 664.5h2M89 663.5h1M93 663.5h3M99 663.5h1M100 662.5h2M105 662.5h3M111 662.5h3M117 662.5h3M123 662.5h3M129 663.5h3M135 664.5h3M141 664.5h3M147 665.5h3M153 666.5h3M159 666.5h3M165 667.5h3M171 668.5h3M177 669.5h3M183 669.5h3M189 669.5h3M195 669.5h2M197 668.5h1M201 668.5h1M202 667.5h2M207 667.5h1M208 666.5h2M213 666.5h3M219 666.5h3M225 665.5h3M231 665.5h3M237 665.5h3M243 666.5h3M249 667.5h3M255 668.5h1M256 669.5h2M261 671.5h3M267 674.5h1M268 675.5h2M273 678.5h1M274 679.5h1M275 680.5h1M279 683.5h1M280 684.5h1M281 685.5h1M285 688.5h1M286 689.5h1M287 690.5h1M291 694.5h1M292 695.5h1M293 696.5h1M297 700.5h1M298 701.5h1M299 702.5h1M302 706.5h1M303 707.5h1M304 708.5h1M308 711.5h1M309 712.5h1M310 713.5h1M314 716.5h2M316 717.5h1M320 720.5h1M321 721.5h2M326 724.5h2M328 725.5h1M332 727.5h3M338 728.5h2M340 729.5h1M344 730.5h3M350 728.5h3M356 726.5h2M358 725.5h1M362 722.5h2M364 721.5h1M368 718.5h1M369 717.5h2M374 714.5h1M375 713.5h1M376 712.5h1M380 709.5h1M381 708.5h2M386 705.5h1M387 704.5h1M388 703.5h1M392 700.5h2M394 699.5h1M398 697.5h1M399 696.5h1M400 695.5h1M404 693.5h1M405 692.5h2M410 689.5h3M416 687.5h1M417 686.5h1M418 685.5h1M422 683.5h3M428 680.5h2M430 679.5h1M434 677.5h2M436 676.5h1M440 674.5h1M441 673.5h2M446 670.5h2M448 669.5h1M452 666.5h2M454 665.5h1M458 663.5h1M459 662.5h1M460 661.5h1M464 659.5h1M465 658.5h1M466 657.5h1M470 654.5h2M472 653.5h1M476 650.5h1M477 649.5h2M482 646.5h1M483 645.5h2M488 642.5h2M490 641.5h1M494 639.5h2M496 638.5h1M500 636.5h1M501 635.5h2M506 634.5h1M507 633.5h2M512 632.5h3M518 631.5h3M524 631.5h1M525 630.5h2M530 630.5h3M536 629.5h3M542 629.5h3M548 628.5h3M554 628.5h3M560 627.5h1M561 626.5h2M566 625.5h3M572 624.5h3M578 624.5h2M580 623.5h1M584 623.5h3M590 623.5h3M596 622.5h3M602 622.5h3M608 622.5h3M614 622.5h3M620 622.5h3M626 622.5h3M632 623.5h3M638 623.5h3M644 624.5h3M650 624.5h3M656 624.5h1M657 625.5h2M662 625.5h3M668 625.5h3M674 626.5h3M680 626.5h3M686 626.5h3M692 627.5h3M698 628.5h3M704 628.5h3M710 628.5h3M716 628.5h3M722 628.5h3M728 629.5h3M734 629.5h3M740 628.5h3M746 627.5h3M752 627.5h3M758 626.5h3M764 626.5h3M770 626.5h1M771 625.5h2M776 625.5h2M778 624.5h1M782 624.5h3M788 623.5h3M794 621.5h2M796 620.5h1M800 619.5h2M802 618.5h1M806 617.5h2M808 616.5h1M812 615.5h1M813 614.5h2M818 612.5h2M820 611.5h1M824 609.5h1M825 608.5h2M830 606.5h2M832 605.5h1M836 604.5h1M837 603.5h2M842 601.5h2M844 600.5h1M848 598.5h3M854 596.5h1M855 595.5h2M860 595.5h2M862 594.5h1M866 594.5h3M872 594.5h3M878 595.5h3M884 595.5h1M885 596.5h2M890 597.5h3M896 599.5h3M902 601.5h2M904 602.5h1M908 603.5h3M914 605.5h2M916 606.5h1M920 607.5h2M922 608.5h1M926 609.5h1M927 610.5h2M932 611.5h3M938 613.5h3M944 614.5h2M946 615.5h1M950 616.5h2M952 617.5h1M956 618.5h2M958 619.5h1M962 620.5h3M968 621.5h3M974 622.5h3M980 623.5h3M986 624.5h1M987 625.5h2M992 626.5h3M998 627.5h3M1004 628.5h3M1010 629.5h3M1016 630.5h3M1022 630.5h3M1028 630.5h3M1034 630.5h3M1040 630.5h3M1046 630.5h3M1052 630.5h3M1058 630.5h2M1060 629.5h1M1064 629.5h3M1070 630.5h3M1076 630.5h3M1082 630.5h3M1088 630.5h3M1094 630.5h3M1100 631.5h3M1106 631.5h3M1112 631.5h3M1118 631.5h3M1124 631.5h1M1125 630.5h2M1130 630.5h3M1136 629.5h3M1142 629.5h1M1143 628.5h2M1148 628.5h3M1154 627.5h3M1160 626.5h3M1166 625.5h3M1172 624.5h3M1178 623.5h3M1184 622.5h3M1190 621.5h3M1196 621.5h3M1202 621.5h1M1203 620.5h2M1208 620.5h3M1214 620.5h3M1220 620.5h3M1226 620.5h3M1232 620.5h3M1238 620.5h3M1244 620.5h3M1250 620.5h3M1256 620.5h1M1257 621.5h2M1262 621.5h2M1264 622.5h1M1268 622.5h3M1274 623.5h3M1280 624.5h3M1286 624.5h2M1288 625.5h1M1292 625.5h3M1298 626.5h3M1304 626.5h2M1306 627.5h1M1310 627.5h2M1312 628.5h1M1316 628.5h2M1318 629.5h1M1322 629.5h3M1328 629.5h3M1334 629.5h2M1336 630.5h1M1340 630.5h3M1346 630.5h3M1352 630.5h2M1354 631.5h1M1358 631.5h3M1364 632.5h3M1370 632.5h3M1376 632.5h3M1382 633.5h3M1388 633.5h3M1394 633.5h3M1400 632.5h3M1406 632.5h3M1412 631.5h3M1418 630.5h3M1424 629.5h2" stroke="#ff0000" stroke-width="1" fill="none"/>
<text x="-1" y="592" font-size="10.2" fill="#000" text-anchor="start" font-weight="normal" textLength="146" lengthAdjust="spacingAndGlyphs" >MACD(12,26,9) 0.006220 0.004399</text>
<text x="1690" y="590" font-size="10" fill="#000" text-anchor="start" font-weight="normal" textLength="38" lengthAdjust="spacingAndGlyphs" >0.016048</text>
<text x="1690" y="651" font-size="10" fill="#000" text-anchor="start" font-weight="normal" textLength="19" lengthAdjust="spacingAndGlyphs" >0.00</text>
<text x="1688" y="746" font-size="10" fill="#000" text-anchor="start" font-weight="normal" textLength="42" lengthAdjust="spacingAndGlyphs" >-0.024625</text>
<g class="c">
<rect x="1687" y="647" width="2" height="1" fill="#000" />
</g>
<g class="c">
<line x1="0" y1="787.5" x2="1686" y2="787.5" stroke="#c0c0c0" stroke-width="1" stroke-dasharray="3 3"/>
<rect x="1687" y="787" width="2" height="1" fill="#000" />
<line x1="0" y1="838.5" x2="1686" y2="838.5" stroke="#c0c0c0" stroke-width="1" stroke-dasharray="3 3"/>
<rect x="1687" y="838" width="2" height="1" fill="#000" />
<line x1="0" y1="899.5" x2="1686" y2="899.5" stroke="#c0c0c0" stroke-width="1" stroke-dasharray="3 3"/>
<rect x="1687" y="899" width="2" height="1" fill="#000" />
</g>
<path class="c" d="M-7 856.5h1M-6 857.5h1M-5 858.5h2M-3 859.5h1M-2 860.5h2M0 861.5h1M1 862.5h1M2.5 863v2M3 865.5h1M4.5 866v2M5 868.5h1M6.5 869v2M7 871.5h1M8.5 872v2M9 874.5h5M14 875.5h4M18 874.5h1M19 873.5h1M20 872.5h1M21 871.5h1M22 870.5h1M23 869.5h1M24 868.5h1M25 867.5h1M26.5 865v2M27 864.5h1M28.5 862v2M29 861.5h1M30.5 859v2M31 858.5h1M32.5 856v2M33 855.5h3M36 856.5h3M39 857.5h4M43 856.5h2M45 855.5h3M48 854.5h3M51 855.5h2M53 856.5h3M56 857.5h2M58 856.5h1M59 855.5h1M60 854.5h1M61 853.5h2M63 852.5h1M64 851.5h1M65 850.5h1M66 851.5h2M68 852.5h2M70 853.5h1M71 854.5h2M73 855.5h1M74 856.5h2M76 857.5h2M78 858.5h1M79 859.5h2M81 860.5h2M83 861.5h2M85 862.5h3M88 863.5h2M90.5 864v2M91.5 866v2M92.5 868v2M93.5 870v2M94.5 872v2M95.5 874v2M96.5 876v2M97 878.5h1M98 877.5h1M99 876.5h1M100 875.5h1M101.5 873v2M102 872.5h1M103 871.5h1M104 870.5h1M105 869.5h1M106 870.5h2M108 871.5h2M110 872.5h1M111 873.5h2M113 874.5h3M116 873.5h3M119 872.5h7M126 873.5h4M130 874.5h1M131.5 875v2M132 877.5h1M133 878.5h1M134 879.5h1M135.5 880v2M136 882.5h1M137 883.5h1M138.5 881v2M139.5 879v2M140.5 877v2M141 876.5h1M142.5 874v2M143.5 872v2M144.5 870v2M145 869.5h1M146 870.5h1M147 871.5h1M148 872.5h1M149.5 873v2M150 875.5h1M151 876.5h1M152 877.5h1M153 878.5h5M158 879.5h4M162.5 877v2M163 876.5h1M164.5 874v2M165 873.5h1M166.5 871v2M167 870.5h1M168.5 868v2M169 867.5h1M170.5 865v2M171 864.5h1M172 863.5h1M173.5 861v2M174 860.5h1M175 859.5h1M176.5 857v2M177 856.5h1M178.5 854v2M179.5 852v2M180 851.5h1M181.5 849v2M182 848.5h1M183.5 846v2M184.5 844v2M185 843.5h2M187 844.5h2M189 845.5h3M192 846.5h2M194 845.5h1M195 844.5h2M197 843.5h1M198 842.5h2M200 841.5h1M201 840.5h1M202 841.5h2M204 842.5h2M206 843.5h1M207 844.5h2M209 845.5h2M211 846.5h1M212 847.5h3M215 848.5h1M216 849.5h2M217 850.5h1M218.5 851v2M219.5 853v2M220.5 855v2M221.5 857v3M222.5 860v2M223.5 862v2M224.5 864v2M225.5 866v2M226 867.5h1M227 868.5h2M229 869.5h3M232 870.5h2M233 871.5h1M234.5 872v2M235.5 874v2M236.5 876v3M237.5 879v2M238.5 881v3M239.5 884v2M240.5 886v2M241.5 888v2M242 890.5h1M243 891.5h1M244 892.5h1M245 893.5h2M247 894.5h1M248 895.5h1M249 896.5h1M250 895.5h1M251 894.5h1M252 893.5h1M253 892.5h1M254 891.5h1M255 890.5h1M256 889.5h1M257 888.5h2M259 889.5h1M260 890.5h3M263 891.5h1M264 892.5h2M266 893.5h2M268 894.5h2M270 895.5h1M271 896.5h2M273 897.5h1M274 898.5h1M275 899.5h2M277 900.5h1M278 901.5h2M280 902.5h1M281 903.5h5M286 904.5h4M290.5 902v2M291 901.5h1M292.5 899v2M293 898.5h1M294.5 896v2M295 895.5h1M296.5 893v2M297 892.5h2M299 893.5h2M301 894.5h3M304 895.5h2M305 894.5h1M306.5 892v2M307.5 890v2M308.5 888v2M309.5 885v3M310.5 883v2M311.5 881v2M312.5 879v2M313.5 877v2M314.5 875v2M315.5 873v2M316 872.5h1M317.5 870v2M318 869.5h1M319.5 867v2M320.5 865v2M321 864.5h2M323 865.5h2M325 866.5h3M328 867.5h2M329 866.5h1M330 865.5h1M331.5 862v3M332 861.5h1M333.5 858v3M334 857.5h1M335.5 854v3M336 853.5h1M337.5 851v2M338.5 849v2M339 848.5h1M340 847.5h1M341.5 845v2M342 844.5h1M343 843.5h1M344.5 841v2M345 840.5h5M350 841.5h8M358 842.5h6M364 843.5h3M367 844.5h4M371 845.5h1M372 846.5h3M375 847.5h1M376 848.5h3M379 849.5h2M381 850.5h3M384 851.5h2M386 852.5h2M388 853.5h2M390 854.5h1M391 855.5h2M393 856.5h5M398 857.5h4M402.5 855v2M403.5 853v2M404.5 851v2M405.5 849v2M406.5 847v2M407.5 845v2M408.5 843v2M409 842.5h2M411 841.5h1M412 840.5h3M415 839.5h1M416 838.5h2M418 837.5h1M419 836.5h1M420 835.5h1M421.5 833v2M422 832.5h1M423 831.5h1M424 830.5h1M425 829.5h1M426 828.5h1M427 827.5h1M428 826.5h1M429 825.5h1M430 824.5h1M431 823.5h1M432 822.5h1M433 821.5h5M438 822.5h4M442 821.5h2M444 820.5h2M446 819.5h1M447 818.5h2M449 817.5h2M451 816.5h2M453 815.5h3M456 814.5h2M458.5 815v2M459.5 817v2M460.5 819v2M461.5 821v2M462.5 823v2M463.5 825v2M464.5 827v2M465 829.5h2M467 828.5h1M468 827.5h3M471 826.5h1M472 825.5h6M478 826.5h6M484 827.5h3M487 828.5h7M494 827.5h4M498 828.5h1M499 829.5h1M500 830.5h1M501 831.5h2M503 832.5h1M504 833.5h1M505 834.5h5M510 833.5h4M514 832.5h1M515 831.5h1M516 830.5h1M517.5 828v2M518 827.5h1M519 826.5h1M520 825.5h1M521 824.5h10M531 823.5h2M533 822.5h3M536 821.5h2M538 820.5h1M539 819.5h2M541 818.5h1M542 817.5h2M544 816.5h1M545 815.5h1M546 814.5h2M548 813.5h2M550 812.5h1M551 811.5h2M553 810.5h2M555 809.5h2M557 808.5h3M560 807.5h2M562 808.5h1M563.5 809v2M564 811.5h1M565 812.5h1M566 813.5h1M567.5 814v2M568 816.5h1M569 817.5h1M570.5 818v2M571.5 820v2M572 822.5h1M573.5 823v2M574 825.5h1M575.5 826v2M576.5 828v2M577 830.5h1M578 831.5h2M580 832.5h2M582 833.5h1M583 834.5h2M585 835.5h1M586 834.5h1M587 833.5h2M589 832.5h1M590 831.5h2M592 830.5h1M593 829.5h5M598 828.5h4M602 829.5h1M603 830.5h2M605 831.5h1M606 832.5h2M608 833.5h1M609 834.5h1M610.5 832v2M611 831.5h1M612.5 829v2M613 828.5h1M614.5 826v2M615 825.5h1M616.5 823v2M617 822.5h2M619 821.5h2M621 820.5h3M624 819.5h6M630 818.5h4M634 819.5h1M635 820.5h1M636 821.5h1M637 822.5h1M638 823.5h1M639 824.5h1M640 825.5h1M641 826.5h1M642 827.5h2M644 828.5h2M646 829.5h1M647 830.5h2M649 831.5h11M660 830.5h3M663 829.5h3M666 830.5h1M667 831.5h1M668 832.5h1M669.5 833v2M670 835.5h1M671 836.5h1M672 837.5h1M673 838.5h3M676 837.5h3M679 836.5h3M682.5 834v2M683.5 832v2M684 831.5h1M685.5 829v2M686 828.5h1M687.5 826v2M688.5 824v2M689 823.5h3M692 822.5h3M695 821.5h3M698 820.5h1M699 819.5h2M701 818.5h1M702 817.5h2M704 816.5h1M705 815.5h1M706 816.5h2M708 817.5h2M710 818.5h1M711 819.5h2M713 820.5h1M714 821.5h1M715 822.5h2M717 823.5h1M718 824.5h2M720 825.5h1M721 826.5h3M724 825.5h3M727 824.5h7M734 823.5h4M738.5 821v2M739 820.5h1M740.5 818v2M741 817.5h1M742.5 815v2M743 814.5h1M744.5 812v2M745 811.5h1M746 812.5h2M748 813.5h2M750 814.5h1M751 815.5h2M753 816.5h5M758 815.5h5M763 814.5h1M764 813.5h3M767 812.5h1M768 811.5h6M774 812.5h4M778.5 810v2M779.5 808v2M780 807.5h1M781.5 805v2M782 804.5h1M783.5 802v2M784.5 800v2M785 799.5h1M786 798.5h1M787 797.5h1M788 796.5h1M789.5 794v2M790 793.5h1M791 792.5h1M792 791.5h1M793 790.5h5M798 789.5h8M806 788.5h5M811 787.5h2M813 786.5h3M816 785.5h6M822 784.5h8M830 783.5h4M833 784.5h1M834.5 785v2M835.5 787v3M836.5 790v2M837.5 792v3M838.5 795v2M839.5 797v3M840.5 800v2M841.5 802v2M842 803.5h2M844 802.5h3M847 801.5h3M849 802.5h1M850.5 803v3M851.5 806v3M852.5 809v3M853.5 812v4M854.5 816v3M855.5 819v3M856.5 822v3M857.5 825v2M858 826.5h2M860 825.5h3M863 824.5h4M867 825.5h2M869 826.5h3M872 827.5h2M874.5 825v2M875.5 823v2M876.5 821v2M877 820.5h1M878.5 818v2M879.5 816v2M880.5 814v2M881 813.5h1M882 814.5h1M883 815.5h1M884 816.5h1M885.5 817v2M886 819.5h1M887 820.5h1M888 821.5h1M889 822.5h2M891 823.5h1M892 824.5h3M895 825.5h1M896 826.5h3M899 827.5h2M901 828.5h3M904 829.5h6M910 830.5h4M914 831.5h2M916 832.5h2M918 833.5h1M919 834.5h2M921 835.5h1M922.5 833v2M923.5 831v2M924.5 829v2M925 828.5h1M926.5 826v2M927.5 824v2M928.5 822v2M929 821.5h5M934 820.5h4M938.5 821v2M939 823.5h1M940.5 824v2M941 826.5h1M942.5 827v2M943 829.5h1M944.5 830v2M945 832.5h2M947 831.5h2M949 830.5h3M952 829.5h3M955 830.5h1M956 831.5h3M959 832.5h1M960 833.5h14M974 832.5h5M979 831.5h1M980 830.5h3M983 829.5h1M984 828.5h4M988 827.5h3M991 826.5h7M998 825.5h5M1003 824.5h1M1004 823.5h3M1007 822.5h1M1008 821.5h11M1019 820.5h1M1020 819.5h3M1023 818.5h1M1024 817.5h2M1026 818.5h1M1027 819.5h1M1028 820.5h1M1029 821.5h2M1031 822.5h1M1032 823.5h1M1033 824.5h1M1034 823.5h1M1035 822.5h2M1037 821.5h1M1038 820.5h2M1040 819.5h1M1041 818.5h1M1042 819.5h1M1043 820.5h2M1045 821.5h1M1046 822.5h2M1048 823.5h1M1049 824.5h2M1051 825.5h2M1053 826.5h3M1056 827.5h6M1062 826.5h5M1067 827.5h1M1068 828.5h3M1071 829.5h1M1072 830.5h2M1074 829.5h1M1075.5 827v2M1076 826.5h1M1077 825.5h1M1078 824.5h1M1079.5 822v2M1080 821.5h1M1081 820.5h2M1083 819.5h2M1085 818.5h3M1088 817.5h2M1090 818.5h1M1091 819.5h1M1092 820.5h1M1093 821.5h1M1094 822.5h1M1095 823.5h1M1096 824.5h1M1097 825.5h2M1099 824.5h1M1100 823.5h3M1103 822.5h1M1104 821.5h6M1110 820.5h5M1115 819.5h2M1117 818.5h3M1120 817.5h2M1121 816.5h1M1122 815.5h1M1123.5 812v3M1124 811.5h1M1125.5 808v3M1126 807.5h1M1127.5 804v3M1128 803.5h1M1129.5 801v2M1130 801.5h8M1138.5 802v2M1139 804.5h1M1140 805.5h1M1141.5 806v2M1142 808.5h1M1143 809.5h1M1144.5 810v2M1145 812.5h17M1162 811.5h1M1163 810.5h1M1164 809.5h1M1165.5 807v2M1166 806.5h1M1167 805.5h1M1168 804.5h1M1169 803.5h13M1182 802.5h5M1187 801.5h1M1188 800.5h3M1191 799.5h1M1192 798.5h2M1193 799.5h1M1194.5 800v2M1195.5 802v2M1196.5 804v2M1197.5 806v2M1198.5 808v2M1199.5 810v2M1200.5 812v2M1201.5 814v2M1202 815.5h4M1206 816.5h4M1210 817.5h1M1211 818.5h1M1212 819.5h1M1213 820.5h1M1214 821.5h1M1215 822.5h1M1216 823.5h1M1217 824.5h1M1218.5 822v2M1219 821.5h1M1220 820.5h1M1221.5 818v2M1222 817.5h1M1223 816.5h1M1224.5 814v2M1225 813.5h2M1227 812.5h1M1228 811.5h3M1231 810.5h1M1232 809.5h3M1235 808.5h1M1236 807.5h3M1239 806.5h1M1240 805.5h2M1241 806.5h1M1242.5 807v3M1243.5 810v2M1244.5 812v3M1245.5 815v3M1246.5 818v3M1247.5 821v2M1248.5 823v3M1249.5 826v2M1250 827.5h2M1252 826.5h3M1255 825.5h7M1262 826.5h6M1268 827.5h3M1271 828.5h4M1275 827.5h1M1276 826.5h3M1279 825.5h1M1280 824.5h2M1282 825.5h2M1284 826.5h2M1286 827.5h1M1287 828.5h2M1289 829.5h1M1290 828.5h1M1291 827.5h2M1293 826.5h1M1294 825.5h2M1296 824.5h1M1297 823.5h2M1299 822.5h2M1301 821.5h3M1304 820.5h3M1307 819.5h1M1308 818.5h3M1311 817.5h1M1312 816.5h2M1314 815.5h1M1315 814.5h1M1316 813.5h1M1317 812.5h2M1319 811.5h1M1320 810.5h1M1321.5 809v2M1322.5 811v2M1323.5 813v2M1324.5 815v3M1325.5 818v2M1326.5 820v3M1327.5 823v2M1328.5 825v2M1329.5 827v2M1330 828.5h1M1331 827.5h2M1333 826.5h3M1336 825.5h2M1338 826.5h1M1339.5 827v2M1340 829.5h1M1341 830.5h1M1342 831.5h1M1343.5 832v2M1344 834.5h1M1345 835.5h11M1356 834.5h3M1359 833.5h3M1362 832.5h1M1363 831.5h2M1365 830.5h1M1366 829.5h2M1368 828.5h1M1369 827.5h1M1370 826.5h1M1371 825.5h1M1372 824.5h1M1373.5 822v2M1374 821.5h1M1375 820.5h1M1376 819.5h1M1377 818.5h2M1379 817.5h1M1380 816.5h3M1383 815.5h1M1384 814.5h2M1386.5 812v2M1387 811.5h1M1388.5 809v2M1389 808.5h1M1390.5 806v2M1391 805.5h1M1392.5 803v2M1393 802.5h3M1396 801.5h3M1399 800.5h7M1406 799.5h8M1414 800.5h4M1418.5 801v2M1419 803.5h1M1420 804.5h1M1421.5 805v2M1422 807.5h1M1423 808.5h1M1424.5 809v2M1425 811.5h1" stroke="#1e90ff" stroke-width="1" fill="none"/>
<text x="-1" y="764" font-size="10.2" fill="#000" text-anchor="start" font-weight="normal" textLength="66.5" lengthAdjust="spacingAndGlyphs" >RSI(14) 65.3027</text>
<text x="1690" y="763" font-size="10" fill="#000" text-anchor="start" font-weight="normal" textLength="14" lengthAdjust="spacingAndGlyphs" >100</text>
<text x="1690" y="791" font-size="10" fill="#000" text-anchor="start" font-weight="normal" textLength="10" lengthAdjust="spacingAndGlyphs" >80</text>
<text x="1690" y="842" font-size="10" fill="#000" text-anchor="start" font-weight="normal" textLength="10" lengthAdjust="spacingAndGlyphs" >50</text>
<text x="1690" y="903" font-size="10" fill="#000" text-anchor="start" font-weight="normal" textLength="10" lengthAdjust="spacingAndGlyphs" >15</text>
<text x="1690" y="922" font-size="10" fill="#000" text-anchor="start" font-weight="normal" >0</text>
<g class="c">
<rect x="-7" y="926" width="1" height="3" fill="#000" />
<rect x="57" y="926" width="1" height="3" fill="#000" />
<rect x="121" y="926" width="1" height="3" fill="#000" />
<rect x="185" y="926" width="1" height="3" fill="#000" />
<rect x="249" y="926" width="1" height="3" fill="#000" />
<rect x="313" y="926" width="1" height="3" fill="#000" />
<rect x="377" y="926" width="1" height="3" fill="#000" />
<rect x="441" y="926" width="1" height="3" fill="#000" />
<rect x="505" y="926" width="1" height="3" fill="#000" />
<rect x="569" y="926" width="1" height="3" fill="#000" />
<rect x="633" y="926" width="1" height="3" fill="#000" />
<rect x="697" y="926" width="1" height="3" fill="#000" />
<rect x="761" y="926" width="1" height="3" fill="#000" />
<rect x="825" y="926" width="1" height="3" fill="#000" />
<rect x="889" y="926" width="1" height="3" fill="#000" />
<rect x="953" y="926" width="1" height="3" fill="#000" />
<rect x="1017" y="926" width="1" height="3" fill="#000" />
<rect x="1081" y="926" width="1" height="3" fill="#000" />
<rect x="1145" y="926" width="1" height="3" fill="#000" />
<rect x="1209" y="926" width="1" height="3" fill="#000" />
<rect x="1273" y="926" width="1" height="3" fill="#000" />
<rect x="1337" y="926" width="1" height="3" fill="#000" />
<rect x="1401" y="926" width="1" height="3" fill="#000" />
</g>
<text x="-7.6" y="938" font-size="9.45" fill="#000" text-anchor="start" font-weight="normal" >4 Feb 2020</text>
<text x="56.4" y="938" font-size="9.45" fill="#000" text-anchor="start" font-weight="normal" >14 Feb 2020</text>
<text x="120.4" y="938" font-size="9.45" fill="#000" text-anchor="start" font-weight="normal" >24 Feb 2020</text>
<text x="184.4" y="938" font-size="9.45" fill="#000" text-anchor="start" font-weight="normal" >4 Mar 2020</text>
<text x="248.4" y="938" font-size="9.45" fill="#000" text-anchor="start" font-weight="normal" >13 Mar 2020</text>
<text x="312.4" y="938" font-size="9.45" fill="#000" text-anchor="start" font-weight="normal" >23 Mar 2020</text>
<text x="376.4" y="938" font-size="9.45" fill="#000" text-anchor="start" font-weight="normal" >1 Apr 2020</text>
<text x="440.4" y="938" font-size="9.45" fill="#000" text-anchor="start" font-weight="normal" >12 Apr 2020</text>
<text x="504.4" y="938" font-size="9.45" fill="#000" text-anchor="start" font-weight="normal" >21 Apr 2020</text>
<text x="568.4" y="938" font-size="9.45" fill="#000" text-anchor="start" font-weight="normal" >30 Apr 2020</text>
<text x="632.4" y="938" font-size="9.45" fill="#000" text-anchor="start" font-weight="normal" >10 May 2020</text>
<text x="696.4" y="938" font-size="9.45" fill="#000" text-anchor="start" font-weight="normal" >19 May 2020</text>
<text x="760.4" y="938" font-size="9.45" fill="#000" text-anchor="start" font-weight="normal" >28 May 2020</text>
<text x="824.4" y="938" font-size="9.45" fill="#000" text-anchor="start" font-weight="normal" >7 Jun 2020</text>
<text x="888.4" y="938" font-size="9.45" fill="#000" text-anchor="start" font-weight="normal" >16 Jun 2020</text>
<text x="952.4" y="938" font-size="9.45" fill="#000" text-anchor="start" font-weight="normal" >25 Jun 2020</text>
<text x="1016.4" y="938" font-size="9.45" fill="#000" text-anchor="start" font-weight="normal" >5 Jul 2020</text>
<text x="1080.4" y="938" font-size="9.45" fill="#000" text-anchor="start" font-weight="normal" >14 Jul 2020</text>
<text x="1144.4" y="938" font-size="9.45" fill="#000" text-anchor="start" font-weight="normal" >23 Jul 2020</text>
<text x="1208.4" y="938" font-size="9.45" fill="#000" text-anchor="start" font-weight="normal" >2 Aug 2020</text>
<text x="1272.4" y="938" font-size="9.45" fill="#000" text-anchor="start" font-weight="normal" >11 Aug 2020</text>
<text x="1336.4" y="938" font-size="9.45" fill="#000" text-anchor="start" font-weight="normal" >20 Aug 2020</text>
<text x="1400.4" y="938" font-size="9.45" fill="#000" text-anchor="start" font-weight="normal" >30 Aug 2020</text>
<g class="c">
<rect x="1732" y="22" width="1" height="926" fill="#e4e4e4" />
<rect x="0" y="946" width="1733" height="2" fill="#e8e8e8" />
<rect x="0" y="945" width="1733" height="1" fill="#f4f4f4" />
</g>
<defs>
<linearGradient id="gTop" x1="0" y1="0" x2="0" y2="1"><stop offset="0" stop-color="#5a58fa"/><stop offset="1" stop-color="#4644ea"/></linearGradient>
<linearGradient id="gBot" x1="0" y1="0" x2="0" y2="1"><stop offset="0" stop-color="#3c3aec"/><stop offset="0.5" stop-color="#2422d4"/><stop offset="1" stop-color="#0c0cb4"/></linearGradient>
<linearGradient id="gBtn" x1="0" y1="0" x2="0" y2="1"><stop offset="0" stop-color="#f2f2f2"/><stop offset="0.45" stop-color="#e6e6e6"/><stop offset="0.5" stop-color="#dadada"/><stop offset="1" stop-color="#d0d0d0"/></linearGradient>
<linearGradient id="gBotU" gradientUnits="userSpaceOnUse" x1="0" y1="68" x2="0" y2="108"><stop offset="0" stop-color="#3c3aec"/><stop offset="0.5" stop-color="#2422d4"/><stop offset="1" stop-color="#0c0cb4"/></linearGradient>
</defs>
<g class="c">
<rect x="0" y="44" width="216" height="64" fill="#fff" />
<rect x="0" y="44" width="48" height="25" fill="url(#gTop)" />
<rect x="164" y="44" width="51" height="25" fill="url(#gTop)" />
<rect x="0" y="68" width="105" height="40" fill="url(#gBot)" />
<rect x="107" y="68" width="108" height="40" fill="url(#gBot)" />
<rect x="47" y="44" width="1" height="24" fill="#2a28c8" />
<rect x="164" y="44" width="1" height="24" fill="#2a28c8" />
<rect x="0" y="44" width="48" height="1" fill="#2a28c8" />
<rect x="164" y="44" width="51" height="1" fill="#2a28c8" />
<rect x="0" y="68" width="44" height="1" fill="#8684f4" />
<rect x="167" y="68" width="44" height="1" fill="#8684f4" />
<rect x="50" y="44" width="112" height="22" fill="#a8a8a8" />
<rect x="51" y="45" width="110" height="20" fill="#fff" />
<rect x="52" y="46" width="18" height="18" fill="url(#gBtn)" />
<rect x="71" y="45" width="1" height="20" fill="#b4b4b4" />
<rect x="141" y="46" width="19" height="18" fill="url(#gBtn)" />
<rect x="139" y="45" width="1" height="20" fill="#b4b4b4" />
</g>
<polygon points="58,53 63.5,53 60.75,56.2" fill="#4a62c4"/>
<polygon points="147,56 152.5,56 149.75,52.8" fill="#4a62c4"/>
<text x="135" y="59" font-size="12.4" fill="#000" text-anchor="end" font-weight="normal" textLength="23" lengthAdjust="spacingAndGlyphs" >1.00</text>
<text x="8.3" y="60" font-size="12.3" fill="#fff" text-anchor="start" font-weight="normal" textLength="26" lengthAdjust="spacingAndGlyphs" >SELL</text>
<text x="176.7" y="60" font-size="12.3" fill="#fff" text-anchor="start" font-weight="normal" textLength="23" lengthAdjust="spacingAndGlyphs" >BUY</text>
<text x="44.6" y="99" font-size="35.2" fill="#fff" text-anchor="start" font-weight="normal" textLength="34" lengthAdjust="spacingAndGlyphs" stroke="url(#gBotU)" stroke-width="0.45">36</text>
<text x="153.6" y="99" font-size="35.2" fill="#fff" text-anchor="start" font-weight="normal" textLength="36" lengthAdjust="spacingAndGlyphs" stroke="url(#gBotU)" stroke-width="0.45">40</text>
<text x="16" y="99" font-size="12.5" fill="#fff" text-anchor="start" font-weight="bold" textLength="24" lengthAdjust="spacingAndGlyphs" >0.73</text>
<text x="126" y="99" font-size="12.5" fill="#fff" text-anchor="start" font-weight="bold" textLength="24" lengthAdjust="spacingAndGlyphs" >0.73</text>
<text x="83" y="83.3" font-size="11" fill="#fff" text-anchor="start" font-weight="bold" >7</text>
<text x="195" y="83.3" font-size="11" fill="#fff" text-anchor="start" font-weight="bold" >5</text>
<g class="c">
<rect x="0" y="0" width="1733" height="19" fill="#f0f0f0" />
<rect x="0" y="19" width="1733" height="1" fill="#dedede" />
<rect x="0" y="20" width="1733" height="1" fill="#a6a6a6" />
<rect x="0" y="21" width="1733" height="1" fill="#737373" />
<rect x="0" y="22" width="1733" height="2" fill="#fff" />
<rect x="322" y="0" width="24" height="18" fill="#f8f8f8" />
<rect x="474" y="0" width="24" height="18" fill="#f8f8f8" />
<rect x="502" y="0" width="24" height="18" fill="#f8f8f8" />
<rect x="662" y="0" width="24" height="18" fill="#f8f8f8" />
<rect x="1136" y="0" width="24" height="18" fill="#f8f8f8" />
<rect x="47" y="0" width="1" height="18" fill="#a0a0a0" />
<rect x="321" y="0" width="1" height="18" fill="#a0a0a0" />
<rect x="378" y="0" width="1" height="18" fill="#a0a0a0" />
<rect x="468" y="0" width="1" height="18" fill="#a0a0a0" />
<rect x="473" y="0" width="1" height="18" fill="#a0a0a0" />
<rect x="501" y="0" width="1" height="18" fill="#a0a0a0" />
<rect x="530" y="0" width="1" height="18" fill="#a0a0a0" />
<rect x="661" y="0" width="1" height="18" fill="#a0a0a0" />
<rect x="718" y="0" width="1" height="18" fill="#a0a0a0" />
<rect x="1135" y="0" width="1" height="18" fill="#a0a0a0" />
<rect x="284" y="0" width="1" height="20" fill="#a0a0a0" />
<rect x="285" y="0" width="1" height="20" fill="#fbfbfb" />
<rect x="651" y="0" width="1" height="20" fill="#a0a0a0" />
<rect x="652" y="0" width="1" height="20" fill="#fbfbfb" />
<rect x="957" y="0" width="1" height="20" fill="#a0a0a0" />
<rect x="958" y="0" width="1" height="20" fill="#fbfbfb" />
<rect x="1218" y="0" width="1" height="20" fill="#a0a0a0" />
<rect x="1219" y="0" width="1" height="20" fill="#fbfbfb" />
<rect x="287" y="0" width="3" height="1" fill="#a8a8a8" />
<rect x="287" y="2" width="3" height="1" fill="#a8a8a8" />
<rect x="287" y="4" width="3" height="1" fill="#a8a8a8" />
<rect x="287" y="6" width="3" height="1" fill="#a8a8a8" />
<rect x="287" y="8" width="3" height="1" fill="#a8a8a8" />
<rect x="287" y="10" width="3" height="1" fill="#a8a8a8" />
<rect x="287" y="12" width="3" height="1" fill="#a8a8a8" />
<rect x="287" y="14" width="3" height="1" fill="#a8a8a8" />
<rect x="287" y="16" width="3" height="1" fill="#a8a8a8" />
<rect x="655" y="0" width="3" height="1" fill="#a8a8a8" />
<rect x="655" y="2" width="3" height="1" fill="#a8a8a8" />
<rect x="655" y="4" width="3" height="1" fill="#a8a8a8" />
<rect x="655" y="6" width="3" height="1" fill="#a8a8a8" />
<rect x="655" y="8" width="3" height="1" fill="#a8a8a8" />
<rect x="655" y="10" width="3" height="1" fill="#a8a8a8" />
<rect x="655" y="12" width="3" height="1" fill="#a8a8a8" />
<rect x="655" y="14" width="3" height="1" fill="#a8a8a8" />
<rect x="655" y="16" width="3" height="1" fill="#a8a8a8" />
<rect x="961" y="0" width="3" height="1" fill="#a8a8a8" />
<rect x="961" y="2" width="3" height="1" fill="#a8a8a8" />
<rect x="961" y="4" width="3" height="1" fill="#a8a8a8" />
<rect x="961" y="6" width="3" height="1" fill="#a8a8a8" />
<rect x="961" y="8" width="3" height="1" fill="#a8a8a8" />
<rect x="961" y="10" width="3" height="1" fill="#a8a8a8" />
<rect x="961" y="12" width="3" height="1" fill="#a8a8a8" />
<rect x="961" y="14" width="3" height="1" fill="#a8a8a8" />
<rect x="961" y="16" width="3" height="1" fill="#a8a8a8" />
</g>
<rect x="-3" y="1.5" width="12.5" height="13" rx="1.5" fill="#fff" stroke="#3c7cc8" stroke-width="1.4"/>
<line x1="0" y1="4.5" x2="8.5" y2="4.5" stroke="#b8ccf0" stroke-width="0.8"/>
<line x1="0" y1="7" x2="8.5" y2="7" stroke="#b8ccf0" stroke-width="0.8"/>
<line x1="0" y1="9.5" x2="8.5" y2="9.5" stroke="#b8ccf0" stroke-width="0.8"/>
<line x1="0" y1="12" x2="8.5" y2="12" stroke="#b8ccf0" stroke-width="0.8"/>
<rect x="22.5" y="0.5" width="11.5" height="13" rx="1" fill="#fbfaf6" stroke="#b4ac98" stroke-width="1"/>
<path d="M25.5,2 V8 M24.5,4.5 H26.5 M31.5,1.5 V7 M30.5,3 H32.5" stroke="#707890" stroke-width="1" fill="none"/>
<line x1="34" y1="12.5" x2="39" y2="16.5" stroke="#d2a224" stroke-width="2.4" stroke-linecap="round"/>
<circle cx="30" cy="8.5" r="4.8" fill="#c4dcf6" fill-opacity="0.85" stroke="#6c98e0" stroke-width="1.2"/>
<path d="M28.5,6 V10.5 M31,7 V11" stroke="#8aa4cc" stroke-width="1.4"/>
<path d="M57.5,1 H65.5 L68.5,4 V13 H57.5 Z" fill="#fdfdfd" stroke="#707070" stroke-width="1" stroke-linejoin="round"/>
<path d="M59.5,4.5 H62.5 M59.5,7.5 H64.5 M59.5,10.5 H62.5" stroke="#8a8a8a" stroke-width="1.2"/>
<path d="M65.4,6.5 h3.2 v3.9 h3.9 v3.2 h-3.9 v3.9 h-3.2 v-3.9 h-3.9 v-3.2 h3.9 Z" fill="#1ed21e" stroke="#0e8c14" stroke-width="0.9" stroke-linejoin="round"/>
<text x="76" y="11.3" font-size="12" fill="#000" text-anchor="start" font-weight="normal" style="font-family:'Liberation Sans','Noto Sans CJK SC',sans-serif">新订单</text>
<defs><linearGradient id="gGold" x1="0" y1="0" x2="1" y2="1"><stop offset="0" stop-color="#f6cc48"/><stop offset="0.45" stop-color="#fbe274"/><stop offset="1" stop-color="#dc9c1c"/></linearGradient></defs>
<path d="M124,9.2 L134,14 L139.6,8 L139,10.8 L133,16 L124,11.2 Z" fill="#c88c18" stroke="#a06808" stroke-width="0.7" stroke-linejoin="round"/>
<path d="M125,10.6 L133.2,14.9 L138.6,9.8" stroke="#fbeeb4" stroke-width="0.9" fill="none"/>
<path d="M130,0.9 Q128,5 124.2,9 L134,14 L139.6,8 Q134,5.5 130,0.9 Z" fill="url(#gGold)" stroke="#b07810" stroke-width="0.8" stroke-linejoin="round"/>
<path d="M154.2,0 H165 V10 H154.2 Z" fill="#2a8ae8" stroke="#1f6fd0" stroke-width="0.7"/>
<path d="M154.4,0 H158.2 V10 H154.4 Z" fill="#62b6fa"/><path d="M160,4.2 H164" stroke="#eaf4ff" stroke-width="1.3"/>
<path d="M155,15.6 C151.3,15.6 151.3,10.8 154.8,10.6 C155.2,7.6 160.2,6.8 161.6,9.8 C164.2,8.6 167,10.4 166,12 C168.8,12.2 168.6,15.6 165.6,15.6 Z" fill="#f2f5fb" stroke="#5c78b8" stroke-width="1"/>
<path d="M153.5,14.6 H167" stroke="#c4cfe6" stroke-width="1"/>
<circle cx="188" cy="8" r="7.2" fill="none" stroke="#9db8e6" stroke-width="1"/>
<circle cx="188" cy="8" r="4.8" fill="none" stroke="#6c90d8" stroke-width="1.1"/>
<path d="M188,8 L188,0.8 A7.2,7.2 0 0 1 188,15.2 Z" fill="#8cc08c" fill-opacity="0.75"/>
<circle cx="188" cy="7.5" r="2" fill="#2a5cc8"/>
<line x1="188.3" y1="8" x2="188.3" y2="16" stroke="#22a022" stroke-width="1.4"/>
<path d="M208.2,6.2 L215.8,15.7 L222.9,6.2 Z" fill="#f6d84c" stroke="#d0a418" stroke-width="0.8" stroke-linejoin="round"/>
<path d="M209.5,7 L215.8,14.8" stroke="#fdf0a0" stroke-width="1"/>
<ellipse cx="215.3" cy="4.8" rx="8.2" ry="2.7" fill="#4a9fe2" stroke="#2c78c4" stroke-width="0.7"/>
<path d="M211.6,4.4 C211.8,-0.8 218.8,-0.8 219,4.4 C217,5.6 213.5,5.6 211.6,4.4 Z" fill="#7cc4f4" stroke="#3a88d0" stroke-width="0.6"/>
<circle cx="219.6" cy="11.6" r="4.2" fill="#d8200e" stroke="#a41206" stroke-width="0.6"/>
<rect x="218.1" y="10.1" width="3" height="3" fill="#fff"/>
<text x="228.3" y="11.3" font-size="12" fill="#000" text-anchor="start" font-weight="normal" style="font-family:'Liberation Sans','Noto Sans CJK SC',sans-serif">自动交易</text>
<path d="M301.5,16 V2.5 M298.5,13.5 H312" stroke="#505050" stroke-width="1.2" fill="none"/>
<path d="M299.5,4.5 L301.5,1.5 L303.5,4.5 Z M310.5,11.5 L313.5,13.5 L310.5,15.5 Z" fill="#505050"/>
<path d="M307.5,3.5 V11 M305,10.5 H307.5 M307.5,4 H310" stroke="#12a02e" stroke-width="1.3" fill="none"/>
<path d="M329.5,16 V2.5 M326.5,13.5 H340" stroke="#505050" stroke-width="1.2" fill="none"/>
<path d="M327.5,4.5 L329.5,1.5 L331.5,4.5 Z M338.5,11.5 L341.5,13.5 L338.5,15.5 Z" fill="#505050"/>
<line x1="335.5" y1="0" x2="335.5" y2="11.5" stroke="#109020" stroke-width="1.1"/>
<rect x="333.2" y="2.5" width="4.6" height="7" fill="#36e046" stroke="#109020" stroke-width="0.9"/>
<path d="M357.5,16 V2.5 M354.5,13.5 H368" stroke="#505050" stroke-width="1.2" fill="none"/>
<path d="M355.5,4.5 L357.5,1.5 L359.5,4.5 Z M366.5,11.5 L369.5,13.5 L366.5,15.5 Z" fill="#505050"/>
<path d="M356.5,10.5 C359,9.5 360.5,5.5 362.5,5.5 C364.5,5.5 365.5,8 367.5,9" stroke="#2e9440" stroke-width="1.2" fill="none"/>
<line x1="397" y1="9.8" x2="402" y2="14.6" stroke="#d6ae22" stroke-width="2.8" stroke-linecap="round"/>
<line x1="397.3" y1="10.1" x2="401.8" y2="14.4" stroke="#f4dc70" stroke-width="1"/>
<circle cx="393" cy="5.8" r="5" fill="#d4e6fa" stroke="#3474d4" stroke-width="1.5"/>
<path d="M390,5.8 H396 M393,2.8 V8.8" stroke="#3c84c8" stroke-width="1.7"/>
<line x1="425" y1="9.8" x2="430" y2="14.6" stroke="#d6ae22" stroke-width="2.8" stroke-linecap="round"/>
<line x1="425.3" y1="10.1" x2="429.8" y2="14.4" stroke="#f4dc70" stroke-width="1"/>
<circle cx="421" cy="5.8" r="5" fill="#d4e6fa" stroke="#3474d4" stroke-width="1.5"/>
<path d="M418,5.8 H424" stroke="#3c84c8" stroke-width="1.7"/>
<rect x="443" y="0" width="7.7" height="7.5" rx="0.5" fill="#43a32f" stroke="#2e8a1e" stroke-width="0.5"/>
<rect x="444" y="2.6" width="5.7" height="4" rx="0.6" fill="#f2f6f0"/>
<rect x="445" y="4.1" width="3.7" height="1" fill="#43a32f"/>
<rect x="444.2" y="1.1" width="1" height="0.9" fill="#e8f0e8"/>
<rect x="451.5" y="0" width="7.7" height="7.5" rx="0.5" fill="#2f66d6" stroke="#2050b8" stroke-width="0.5"/>
<rect x="452.5" y="2.6" width="5.7" height="4" rx="0.6" fill="#f2f6f0"/>
<rect x="453.5" y="4.1" width="3.7" height="1" fill="#2f66d6"/>
<rect x="452.7" y="1.1" width="1" height="0.9" fill="#e8f0e8"/>
<rect x="443" y="8.3" width="7.7" height="7.5" rx="0.5" fill="#2f66d6" stroke="#2050b8" stroke-width="0.5"/>
<rect x="444" y="10.9" width="5.7" height="4" rx="0.6" fill="#f2f6f0"/>
<rect x="445" y="12.4" width="3.7" height="1" fill="#2f66d6"/>
<rect x="444.2" y="9.4" width="1" height="0.9" fill="#e8f0e8"/>
<rect x="451.5" y="8.3" width="7.7" height="7.5" rx="0.5" fill="#43a32f" stroke="#2e8a1e" stroke-width="0.5"/>
<rect x="452.5" y="10.9" width="5.7" height="4" rx="0.6" fill="#f2f6f0"/>
<rect x="453.5" y="12.4" width="3.7" height="1" fill="#43a32f"/>
<rect x="452.7" y="9.4" width="1" height="0.9" fill="#e8f0e8"/>
<path d="M481.5,16 V2.5 M478.5,13.5 H492" stroke="#505050" stroke-width="1.2" fill="none"/>
<path d="M479.5,4.5 L481.5,1.5 L483.5,4.5 Z M490.5,11.5 L493.5,13.5 L490.5,15.5 Z" fill="#505050"/>
<path d="M486,4.8 V11.2 L490.3,8 Z" fill="#74e07c" stroke="#12a426" stroke-width="1" stroke-linejoin="round"/>
<path d="M509.5,16 V2.5 M506.5,13.5 H520" stroke="#505050" stroke-width="1.2" fill="none"/>
<path d="M507.5,4.5 L509.5,1.5 L511.5,4.5 Z M518.5,11.5 L521.5,13.5 L518.5,15.5 Z" fill="#505050"/>
<line x1="515.6" y1="2" x2="515.6" y2="11.5" stroke="#1f6fae" stroke-width="1.2"/>
<path d="M521.5,7.5 H517.5" stroke="#e0440e" stroke-width="1.1"/><path d="M516.3,7.5 L519.3,5.3 L519.3,9.7 Z" fill="#e0440e"/>
<path d="M540.5,1 H548.5 L551.5,4 V13 H540.5 Z" fill="#fdfdfd" stroke="#707070" stroke-width="1" stroke-linejoin="round"/>
<path d="M542.5,4.5 H545.5 M542.5,7.5 H547.5 M542.5,10.5 H545.5" stroke="#8a8a8a" stroke-width="1.2"/>
<path d="M548.9,6.5 h3.2 v3.9 h3.9 v3.2 h-3.9 v3.9 h-3.2 v-3.9 h-3.9 v-3.2 h3.9 Z" fill="#1ed21e" stroke="#0e8c14" stroke-width="0.9" stroke-linejoin="round"/>
<path d="M562,7 h5.6 l-2.8,3.1 Z" fill="#000"/>
<path d="M600.8,7 h5.6 l-2.8,3.1 Z" fill="#000"/>
<path d="M639.7,7 h5.6 l-2.8,3.1 Z" fill="#000"/>
<path d="M946,7 h5.6 l-2.8,3.1 Z" fill="#000"/>
<defs><radialGradient id="gClk" cx="0.4" cy="0.35" r="0.7"><stop offset="0" stop-color="#5ab0f8"/><stop offset="1" stop-color="#1264c8"/></radialGradient></defs>
<circle cx="586" cy="8.2" r="8" fill="url(#gClk)"/><rect x="584.5" y="-1" width="3" height="2" fill="#1264c8"/>
<circle cx="586" cy="8.2" r="5" fill="#fbfbfb"/>
<path d="M586,4 V8.5 H589" stroke="#222" stroke-width="1.1" fill="none"/>
<rect x="617.5" y="1.5" width="15" height="13" rx="1" fill="#fff" stroke="#3474c4" stroke-width="1.2"/>
<rect x="618" y="2" width="14" height="2" fill="#6aa8ec"/><line x1="618" y1="8.8" x2="632" y2="8.8" stroke="#3474c4" stroke-width="1"/>
<path d="M619.5,7 L622,7 L624.5,5.5 L627,6.5 L630.5,5.2" stroke="#a42410" stroke-width="1.2" fill="none"/>
<path d="M620,12.5 L622.5,11.8 L624.5,12.6 L627.5,10.3 L630.5,12.3" stroke="#129826" stroke-width="1.2" fill="none"/>
<path d="M669.5,1 V12.2 L672.2,9.8 L674.3,14.6 L676,13.9 L674,9.2 L677.5,9 Z" fill="#404040"/>
<g class="c">
<rect x="694" y="8" width="15" height="1" fill="#505050" />
<rect x="701" y="1" width="1" height="15" fill="#505050" />
</g>
<g class="c">
<rect x="735" y="2" width="1" height="13" fill="#404040" />
<rect x="758" y="8" width="12" height="1" fill="#404040" />
</g>
<line x1="786" y1="15" x2="798" y2="3" stroke="#404040" stroke-width="1.1"/>
<path d="M812,10 L820.5,1.5 M816,15 L826,5 M814,9.5 L817.5,13 M816.5,7.5 L820,11 M819,5 L822.5,8.5 M821.5,2.5 L825,6 M823,0 V4" stroke="#404040" stroke-width="1.25" fill="none"/>
<text x="822.7" y="16.5" font-size="6.5" fill="#303030" text-anchor="start" font-weight="bold" >E</text>
<line x1="841" y1="1.5" x2="854" y2="1.5" stroke="#505050" stroke-width="1" stroke-dasharray="1 1" class="c"/>
<line x1="841" y1="4.5" x2="854" y2="4.5" stroke="#505050" stroke-width="1" stroke-dasharray="1 1" class="c"/>
<line x1="841" y1="8.5" x2="854" y2="8.5" stroke="#505050" stroke-width="1" stroke-dasharray="1 1" class="c"/>
<line x1="841" y1="12.5" x2="850" y2="12.5" stroke="#505050" stroke-width="1" stroke-dasharray="1 1" class="c"/>
<text x="850.8" y="16.5" font-size="6.5" fill="#303030" text-anchor="start" font-weight="bold" >F</text>
<text x="875.5" y="13" font-size="12.5" fill="#505050" text-anchor="middle" font-weight="bold" textLength="8.5" lengthAdjust="spacingAndGlyphs" >A</text>
<rect x="898.5" y="2.5" width="11.5" height="12" fill="none" stroke="#505050" stroke-width="1" stroke-dasharray="1 1" class="c"/>
<text x="904.3" y="12.6" font-size="10.5" fill="#505050" text-anchor="middle" font-weight="bold" >T</text>
<path d="M928.5,1.5 L931.5,4.5 L928.5,6.5 L925.5,4.5 Z M935.5,15.5 L932.3,12.3 L935.5,10.3 L938.7,12.3 Z" fill="#404040"/>
<path d="M926.8,9 L929.3,11 L934,5.8" stroke="#404040" stroke-width="1.3" fill="none"/>
<text x="979" y="11.9" font-size="9.6" fill="#484848" text-anchor="middle" font-weight="normal" textLength="12.5" lengthAdjust="spacingAndGlyphs" >M1</text>
<text x="1007" y="11.9" font-size="9.6" fill="#484848" text-anchor="middle" font-weight="normal" textLength="12.5" lengthAdjust="spacingAndGlyphs" >M5</text>
<text x="1035.5" y="11.9" font-size="9.6" fill="#484848" text-anchor="middle" font-weight="normal" textLength="18.5" lengthAdjust="spacingAndGlyphs" >M15</text>
<text x="1063.5" y="11.9" font-size="9.6" fill="#484848" text-anchor="middle" font-weight="normal" textLength="18.5" lengthAdjust="spacingAndGlyphs" >M30</text>
<text x="1091.5" y="11.9" font-size="9.6" fill="#484848" text-anchor="middle" font-weight="normal" textLength="11.5" lengthAdjust="spacingAndGlyphs" >H1</text>
<text x="1119" y="11.9" font-size="9.6" fill="#484848" text-anchor="middle" font-weight="normal" textLength="11.5" lengthAdjust="spacingAndGlyphs" >H4</text>
<text x="1147.5" y="11.9" font-size="9.6" fill="#484848" text-anchor="middle" font-weight="normal" textLength="11.5" lengthAdjust="spacingAndGlyphs" >D1</text>
<text x="1176" y="11.9" font-size="9.6" fill="#484848" text-anchor="middle" font-weight="normal" textLength="14" lengthAdjust="spacingAndGlyphs" >W1</text>
<text x="1203" y="11.9" font-size="9.6" fill="#484848" text-anchor="middle" font-weight="normal" textLength="14" lengthAdjust="spacingAndGlyphs" >MN</text>
<line x1="1685.6" y1="8.8" x2="1681" y2="12.8" stroke="#2460d6" stroke-width="2.3" stroke-linecap="round"/>
<circle cx="1688.6" cy="5.5" r="3.9" fill="#fdfdff" stroke="#2460e0" stroke-width="1.2"/>
<path d="M1721,0 C1729.5,-0.5 1730,9.5 1724.5,9.8 L1724.8,11.8 L1722.5,9.9 C1712.5,10.5 1712.5,0 1721,0 Z" fill="#f6f6f8" stroke="#949494" stroke-width="0.8"/>
<path d="M1712.3,5.3 C1719,5 1719,12.8 1712.5,13 L1710.5,13 L1709.3,14.8 L1709.2,12.8 C1705.5,11.5 1706,5.5 1712.3,5.3 Z" fill="#f4f4f8" stroke="#949494" stroke-width="0.8"/>
</svg>
</body></html>
